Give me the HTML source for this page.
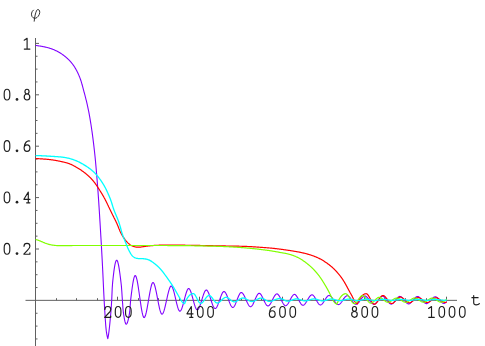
<!DOCTYPE html>
<html><head><meta charset="utf-8"><style>
html,body{margin:0;padding:0;background:#fff;}
svg{display:block}
</style></head><body>
<svg width="485" height="346" viewBox="0 0 485 346">
<rect width="485" height="346" fill="#fff"/>
<g fill="none" stroke="#606060" stroke-width="1">
<path d="M25.5,300.35 H457 M35.5,38 V346"/>
<path d="M56.50,300.35 v-2.15 M76.50,300.35 v-2.15 M97.50,300.35 v-2.15 M117.50,300.35 v-3.65 M138.50,300.35 v-2.15 M158.50,300.35 v-2.15 M179.50,300.35 v-2.15 M199.50,300.35 v-3.65 M220.50,300.35 v-2.15 M241.50,300.35 v-2.15 M261.50,300.35 v-2.15 M282.50,300.35 v-3.65 M302.50,300.35 v-2.15 M323.50,300.35 v-2.15 M343.50,300.35 v-2.15 M364.50,300.35 v-3.65 M384.50,300.35 v-2.15 M405.50,300.35 v-2.15 M426.50,300.35 v-2.15 M446.50,300.35 v-3.65 M35.5,338.95 h2.0 M35.5,326.10 h2.0 M35.5,313.25 h2.0 M35.5,287.55 h2.0 M35.5,274.70 h2.0 M35.5,261.85 h2.0 M35.5,249.00 h3.5 M35.5,236.15 h2.0 M35.5,223.30 h2.0 M35.5,210.45 h2.0 M35.5,197.60 h3.5 M35.5,184.75 h2.0 M35.5,171.90 h2.0 M35.5,159.05 h2.0 M35.5,146.20 h3.5 M35.5,133.35 h2.0 M35.5,120.50 h2.0 M35.5,107.65 h2.0 M35.5,94.80 h3.5 M35.5,81.95 h2.0 M35.5,69.10 h2.0 M35.5,56.25 h2.0 M35.5,43.40 h3.5"/>
</g>
<g fill="none" stroke-linejoin="round" stroke-linecap="butt" stroke-width="1.2">
<path stroke="#8000ff" stroke-width="1.1" d="M35.60,45.40 L36.09,45.47 L36.58,45.54 L37.08,45.62 L37.57,45.69 L38.06,45.76 L38.56,45.84 L39.05,45.92 L39.55,46.00 L40.04,46.08 L40.53,46.16 L41.03,46.24 L41.52,46.33 L42.01,46.41 L42.51,46.51 L43.00,46.60 L43.49,46.69 L43.98,46.79 L44.47,46.89 L44.97,47.00 L45.45,47.11 L45.94,47.22 L46.43,47.34 L46.92,47.45 L47.40,47.58 L47.89,47.71 L48.37,47.84 L48.85,47.97 L49.33,48.11 L49.81,48.26 L50.29,48.41 L50.76,48.57 L51.23,48.73 L51.70,48.89 L52.17,49.06 L52.64,49.24 L53.11,49.43 L53.57,49.61 L54.03,49.81 L54.49,50.01 L54.95,50.21 L55.40,50.42 L55.86,50.64 L56.31,50.86 L56.75,51.08 L57.20,51.31 L57.64,51.54 L58.08,51.78 L58.52,52.03 L58.95,52.27 L59.39,52.53 L59.82,52.78 L60.24,53.04 L60.67,53.31 L61.09,53.58 L61.51,53.85 L61.92,54.13 L62.34,54.42 L62.75,54.70 L63.15,54.99 L63.56,55.29 L63.96,55.59 L64.36,55.90 L64.75,56.20 L65.14,56.52 L65.53,56.83 L65.91,57.16 L66.29,57.48 L66.67,57.81 L67.05,58.14 L67.42,58.48 L67.78,58.82 L68.15,59.17 L68.51,59.52 L68.86,59.87 L69.21,60.23 L69.56,60.59 L69.90,60.96 L70.24,61.33 L70.58,61.70 L70.91,62.08 L71.23,62.46 L71.55,62.85 L71.87,63.24 L72.18,63.63 L72.49,64.02 L72.79,64.42 L73.09,64.83 L73.38,65.23 L73.67,65.64 L73.95,66.05 L74.23,66.47 L74.50,66.89 L74.77,67.31 L75.03,67.74 L75.29,68.17 L75.54,68.60 L75.79,69.03 L76.04,69.47 L76.28,69.91 L76.52,70.35 L76.75,70.79 L76.98,71.24 L77.21,71.68 L77.43,72.13 L77.65,72.58 L77.86,73.03 L78.08,73.49 L78.29,73.94 L78.49,74.40 L78.70,74.86 L78.90,75.31 L79.09,75.78 L79.29,76.24 L79.48,76.70 L79.66,77.16 L79.84,77.63 L80.02,78.10 L80.19,78.57 L80.36,79.04 L80.53,79.51 L80.69,79.98 L80.85,80.45 L81.01,80.93 L81.16,81.41 L81.30,81.88 L81.45,82.36 L81.59,82.84 L81.73,83.32 L81.87,83.80 L82.00,84.28 L82.13,84.77 L82.27,85.25 L82.40,85.73 L82.53,86.22 L82.65,86.70 L82.78,87.18 L82.91,87.67 L83.04,88.15 L83.17,88.63 L83.30,89.12 L83.43,89.60 L83.56,90.08 L83.69,90.57 L83.82,91.05 L83.95,91.53 L84.07,92.02 L84.20,92.50 L84.33,92.98 L84.46,93.46 L84.59,93.95 L84.72,94.43 L84.85,94.91 L84.98,95.40 L85.10,95.88 L85.23,96.37 L85.35,96.85 L85.48,97.33 L85.60,97.82 L85.73,98.30 L85.85,98.79 L85.97,99.27 L86.09,99.76 L86.21,100.24 L86.33,100.73 L86.45,101.21 L86.57,101.70 L86.68,102.18 L86.80,102.67 L86.91,103.16 L87.02,103.64 L87.14,104.13 L87.25,104.62 L87.36,105.11 L87.46,105.60 L87.57,106.08 L87.68,106.57 L87.78,107.06 L87.89,107.55 L87.99,108.04 L88.09,108.53 L88.19,109.02 L88.30,109.51 L88.40,110.00 L88.49,110.49 L88.59,110.98 L88.69,111.47 L88.78,111.96 L88.88,112.45 L88.97,112.94 L89.07,113.44 L89.16,113.93 L89.25,114.42 L89.34,114.91 L89.43,115.40 L89.52,115.89 L89.61,116.39 L89.70,116.88 L89.78,117.37 L89.87,117.86 L89.96,118.36 L90.04,118.85 L90.13,119.34 L90.21,119.84 L90.29,120.33 L90.37,120.82 L90.45,121.32 L90.53,121.81 L90.61,122.30 L90.69,122.80 L90.77,123.29 L90.85,123.78 L90.93,124.28 L91.01,124.77 L91.08,125.27 L91.16,125.76 L91.23,126.25 L91.31,126.75 L91.38,127.24 L91.46,127.74 L91.53,128.23 L91.60,128.73 L91.67,129.22 L91.75,129.72 L91.82,130.21 L91.89,130.71 L91.96,131.20 L92.03,131.70 L92.10,132.19 L92.17,132.69 L92.23,133.18 L92.30,133.68 L92.37,134.17 L92.44,134.67 L92.50,135.16 L92.57,135.66 L92.64,136.16 L92.70,136.65 L92.77,137.15 L92.83,137.64 L92.90,138.14 L92.96,138.63 L93.03,139.13 L93.09,139.63 L93.15,140.12 L93.21,140.62 L93.28,141.11 L93.34,141.61 L93.40,142.11 L93.46,142.60 L93.52,143.10 L93.58,143.60 L93.64,144.09 L93.70,144.59 L93.76,145.08 L93.82,145.58 L93.88,146.08 L93.94,146.57 L93.99,147.07 L94.05,147.57 L94.11,148.06 L94.17,148.56 L94.22,149.06 L94.28,149.56 L94.33,150.05 L94.39,150.55 L94.44,151.05 L94.50,151.54 L94.55,152.04 L94.61,152.54 L94.66,153.03 L94.71,153.53 L94.77,154.03 L94.82,154.53 L94.87,155.02 L94.92,155.52 L94.98,156.02 L95.03,156.52 L95.08,157.01 L95.13,157.51 L95.18,158.01 L95.23,158.51 L95.28,159.00 L95.33,159.50 L95.37,160.00 L95.42,160.50 L95.47,160.99 L95.52,161.49 L95.56,161.99 L95.61,162.49 L95.66,162.98 L95.70,163.48 L95.75,163.98 L95.79,164.48 L95.84,164.98 L95.88,165.47 L95.93,165.97 L95.97,166.47 L96.02,166.97 L96.06,167.47 L96.10,167.96 L96.15,168.46 L96.19,168.96 L96.23,169.46 L96.28,169.96 L96.32,170.46 L96.36,170.95 L96.40,171.45 L96.45,171.95 L96.49,172.45 L96.53,172.95 L96.57,173.44 L96.61,173.94 L96.65,174.44 L96.69,174.94 L96.74,175.44 L96.78,175.94 L96.82,176.43 L96.86,176.93 L96.90,177.43 L96.94,177.93 L96.98,178.43 L97.02,178.93 L97.06,179.42 L97.10,179.92 L97.14,180.42 L97.18,180.92 L97.22,181.42 L97.26,181.92 L97.30,182.41 L97.34,182.91 L97.38,183.41 L97.42,183.91 L97.46,184.41 L97.50,184.91 L97.54,185.41 L97.58,185.90 L97.62,186.40 L97.66,186.90 L97.69,187.40 L97.73,187.90 L97.77,188.40 L97.81,188.90 L97.85,189.39 L97.88,189.89 L97.92,190.39 L97.96,190.89 L97.99,191.39 L98.03,191.89 L98.07,192.39 L98.10,192.88 L98.14,193.38 L98.17,193.88 L98.21,194.38 L98.24,194.88 L98.28,195.38 L98.31,195.88 L98.35,196.38 L98.38,196.87 L98.42,197.37 L98.45,197.87 L98.49,198.37 L98.52,198.87 L98.55,199.37 L98.59,199.87 L98.62,200.37 L98.66,200.87 L98.69,201.36 L98.72,201.86 L98.75,202.36 L98.79,202.86 L98.82,203.36 L98.85,203.86 L98.88,204.36 L98.92,204.86 L98.95,205.36 L98.98,205.85 L99.01,206.35 L99.05,206.85 L99.08,207.35 L99.11,207.85 L99.14,208.35 L99.17,208.85 L99.20,209.35 L99.24,209.85 L99.27,210.35 L99.30,210.84 L99.33,211.34 L99.36,211.84 L99.39,212.34 L99.42,212.84 L99.45,213.34 L99.48,213.84 L99.52,214.34 L99.55,214.84 L99.58,215.34 L99.61,215.84 L99.64,216.33 L99.67,216.83 L99.70,217.33 L99.73,217.83 L99.76,218.33 L99.79,218.83 L99.82,219.33 L99.85,219.83 L99.88,220.33 L99.91,220.83 L99.95,221.32 L99.98,221.82 L100.01,222.32 L100.04,222.82 L100.07,223.32 L100.10,223.82 L100.13,224.32 L100.16,224.82 L100.19,225.32 L100.22,225.82 L100.25,226.32 L100.28,226.81 L100.31,227.31 L100.34,227.81 L100.37,228.31 L100.40,228.81 L100.43,229.31 L100.46,229.81 L100.49,230.31 L100.52,230.81 L100.55,231.31 L100.58,231.81 L100.61,232.31 L100.64,232.80 L100.67,233.30 L100.70,233.80 L100.72,234.30 L100.75,234.80 L100.78,235.30 L100.81,235.80 L100.84,236.30 L100.87,236.80 L100.90,237.30 L100.93,237.80 L100.96,238.29 L100.99,238.79 L101.02,239.29 L101.05,239.79 L101.08,240.29 L101.11,240.79 L101.13,241.29 L101.16,241.79 L101.19,242.29 L101.22,242.79 L101.25,243.29 L101.28,243.79 L101.31,244.28 L101.34,244.78 L101.36,245.28 L101.39,245.78 L101.42,246.28 L101.45,246.78 L101.48,247.28 L101.51,247.78 L101.54,248.28 L101.56,248.78 L101.59,249.28 L101.62,249.78 L101.65,250.27 L101.68,250.77 L101.70,251.27 L101.73,251.77 L101.76,252.27 L101.79,252.77 L101.81,253.27 L101.84,253.77 L101.87,254.27 L101.90,254.77 L101.92,255.27 L101.95,255.77 L101.98,256.27 L102.01,256.76 L102.03,257.26 L102.06,257.76 L102.09,258.26 L102.11,258.76 L102.14,259.26 L102.17,259.76 L102.19,260.26 L102.22,260.76 L102.25,261.26 L102.27,261.76 L102.30,262.26 L102.32,262.76 L102.35,263.26 L102.38,263.75 L102.40,264.25 L102.43,264.75 L102.45,265.25 L102.48,265.75 L102.50,266.25 L102.53,266.75 L102.55,267.25 L102.58,267.75 L102.60,268.25 L102.63,268.75 L102.65,269.25 L102.68,269.75 L102.70,270.25 L102.73,270.75 L102.75,271.25 L102.78,271.75 L102.80,272.24 L102.82,272.74 L102.85,273.24 L102.87,273.74 L102.90,274.24 L102.92,274.74 L102.94,275.24 L102.97,275.74 L102.99,276.24 L103.01,276.74 L103.04,277.24 L103.06,277.74 L103.08,278.24 L103.11,278.74 L103.13,279.24 L103.15,279.74 L103.17,280.24 L103.20,280.74 L103.22,281.24 L103.24,281.74 L103.27,282.24 L103.29,282.73 L103.31,283.23 L103.34,283.73 L103.36,284.23 L103.38,284.73 L103.41,285.23 L103.43,285.73 L103.45,286.23 L103.48,286.73 L103.50,287.23 L103.52,287.73 L103.55,288.23 L103.57,288.73 L103.59,289.23 L103.62,289.73 L103.64,290.23 L103.66,290.73 L103.69,291.23 L103.71,291.73 L103.74,292.22 L103.76,292.72 L103.79,293.22 L103.81,293.72 L103.84,294.22 L103.86,294.72 L103.89,295.22 L103.91,295.72 L103.94,296.22 L103.96,296.72 L103.99,297.22 L104.01,297.72 L104.04,298.22 L104.07,298.72 L104.09,299.21 L104.12,299.71 L104.15,300.21 L104.17,300.71 L104.20,301.21 L104.23,301.71 L104.25,302.21 L104.28,302.71 L104.31,303.21 L104.34,303.71 L104.37,304.20 L104.40,304.70 L104.43,305.20 L104.45,305.70 L104.48,306.20 L104.51,306.70 L104.54,307.20 L104.57,307.70 L104.60,308.20 L104.63,308.69 L104.66,309.19 L104.69,309.69 L104.72,310.19 L104.76,310.69 L104.79,311.19 L104.82,311.69 L104.85,312.19 L104.88,312.69 L104.91,313.18 L104.95,313.68 L104.98,314.18 L105.01,314.68 L105.04,315.18 L105.07,315.68 L105.11,316.18 L105.14,316.68 L105.17,317.18 L105.21,317.68 L105.24,318.18 L105.27,318.67 L105.31,319.17 L105.34,319.67 L105.37,320.17 L105.41,320.67 L105.44,321.17 L105.48,321.67 L105.51,322.17 L105.55,322.67 L105.58,323.17 L105.62,323.67 L105.65,324.17 L105.69,324.67 L105.73,325.17 L105.77,325.67 L105.81,326.16 L105.85,326.66 L105.89,327.16 L105.94,327.66 L105.99,328.16 L106.04,328.66 L106.09,329.15 L106.15,329.65 L106.20,330.15 L106.27,330.64 L106.33,331.14 L106.40,331.63 L106.47,332.13 L106.54,332.62 L106.62,333.11 L106.70,333.61 L106.79,334.10 L106.88,334.59 L106.97,335.08 L107.07,335.57 L107.17,336.06 L107.28,336.55 L107.40,337.03 L107.52,337.52 L107.64,338.01 L107.77,338.49 L107.80,338.60 L108.20,336.72 L108.60,334.23 L109.00,331.21 L109.40,327.74 L109.80,323.89 L110.20,319.75 L110.60,315.38 L111.00,310.82 L111.40,305.33 L111.80,298.39 L112.20,288.42 L112.60,282.91 L113.00,278.96 L113.40,275.34 L113.80,272.06 L114.20,269.13 L114.60,266.59 L115.00,264.44 L115.40,262.71 L115.80,261.42 L116.20,260.58 L116.60,260.22 L117.00,260.35 L117.40,260.97 L117.80,262.06 L118.20,263.57 L118.60,265.45 L119.00,267.68 L119.40,270.20 L119.80,272.98 L120.20,275.97 L120.60,279.14 L121.00,282.45 L121.40,285.96 L121.80,291.27 L122.20,297.52 L122.60,303.24 L123.00,308.96 L123.40,312.69 L123.80,315.35 L124.20,317.78 L124.60,319.91 L125.00,321.69 L125.40,323.04 L125.80,323.90 L126.20,324.20 L126.60,324.01 L127.00,323.45 L127.40,322.55 L127.80,321.34 L128.20,319.83 L128.60,318.06 L129.00,316.04 L129.40,313.81 L129.80,311.20 L130.20,305.66 L130.60,300.40 L131.00,297.07 L131.40,293.82 L131.80,290.70 L132.20,287.75 L132.60,285.01 L133.00,282.53 L133.40,280.36 L133.80,278.53 L134.20,277.09 L134.60,276.09 L135.00,275.57 L135.40,275.56 L135.80,276.05 L136.20,276.98 L136.60,278.30 L137.00,279.97 L137.40,281.95 L137.80,284.18 L138.20,286.63 L138.60,289.24 L139.00,291.97 L139.40,294.78 L139.80,297.61 L140.20,300.43 L140.60,303.19 L141.00,305.84 L141.40,308.33 L141.80,310.62 L142.20,312.66 L142.60,314.42 L143.00,315.83 L143.40,316.86 L143.80,317.46 L144.20,317.59 L144.60,317.28 L145.00,316.60 L145.40,315.57 L145.80,314.25 L146.20,312.66 L146.60,310.85 L147.00,308.85 L147.40,306.70 L147.80,304.44 L148.20,302.12 L148.60,299.75 L149.00,297.40 L149.40,295.08 L149.80,292.85 L150.20,290.74 L150.60,288.78 L151.00,287.02 L151.40,285.50 L151.80,284.24 L152.20,283.30 L152.60,282.71 L153.00,282.50 L153.40,282.68 L153.80,283.21 L154.20,284.04 L154.60,285.15 L155.00,286.50 L155.40,288.06 L155.80,289.80 L156.20,291.67 L156.60,293.66 L157.00,295.72 L157.40,297.82 L157.80,299.93 L158.20,302.02 L158.60,304.05 L159.00,305.98 L159.40,307.79 L159.80,309.44 L160.20,310.90 L160.60,312.14 L161.00,313.11 L161.40,313.80 L161.80,314.15 L162.20,314.16 L162.60,313.86 L163.00,313.27 L163.40,312.44 L163.80,311.38 L164.20,310.13 L164.60,308.72 L165.00,307.16 L165.40,305.49 L165.80,303.74 L166.20,301.93 L166.60,300.10 L167.00,298.27 L167.40,296.46 L167.80,294.71 L168.20,293.04 L168.60,291.48 L169.00,290.07 L169.40,288.82 L169.80,287.76 L170.20,286.93 L170.60,286.34 L171.00,286.04 L171.40,286.04 L171.80,286.34 L172.20,286.92 L172.60,287.75 L173.00,288.79 L173.40,290.02 L173.80,291.41 L174.20,292.92 L174.60,294.54 L175.00,296.22 L175.40,297.95 L175.80,299.69 L176.20,301.40 L176.60,303.07 L177.00,304.67 L177.40,306.15 L177.80,307.50 L178.20,308.69 L178.60,309.68 L179.00,310.45 L179.40,310.96 L179.80,311.19 L180.20,311.12 L180.60,310.79 L181.00,310.22 L181.40,309.45 L181.80,308.48 L182.20,307.36 L182.60,306.10 L183.00,304.73 L183.40,303.28 L183.80,301.78 L184.20,300.24 L184.60,298.69 L185.00,297.16 L185.40,295.68 L185.80,294.27 L186.20,292.96 L186.60,291.76 L187.00,290.71 L187.40,289.84 L187.80,289.16 L188.20,288.71 L188.60,288.51 L189.00,288.58 L189.40,288.90 L189.80,289.46 L190.20,290.23 L190.60,291.17 L191.00,292.27 L191.40,293.50 L191.80,294.84 L192.20,296.25 L192.60,297.71 L193.00,299.20 L193.40,300.69 L193.80,302.15 L194.20,303.56 L194.60,304.90 L195.00,306.13 L195.40,307.23 L195.80,308.17 L196.20,308.94 L196.60,309.50 L197.00,309.82 L197.40,309.89 L197.80,309.72 L198.20,309.34 L198.60,308.77 L199.00,308.04 L199.40,307.16 L199.80,306.15 L200.20,305.03 L200.60,303.84 L201.00,302.58 L201.40,301.27 L201.80,299.95 L202.20,298.63 L202.60,297.32 L203.00,296.06 L203.40,294.87 L203.80,293.75 L204.20,292.74 L204.60,291.86 L205.00,291.13 L205.40,290.56 L205.80,290.18 L206.20,290.01 L206.60,290.06 L207.00,290.33 L207.40,290.78 L207.80,291.40 L208.20,292.17 L208.60,293.07 L209.00,294.07 L209.40,295.17 L209.80,296.33 L210.20,297.54 L210.60,298.78 L211.00,300.03 L211.40,301.26 L211.80,302.46 L212.20,303.61 L212.60,304.69 L213.00,305.67 L213.40,306.54 L213.80,307.27 L214.20,307.85 L214.60,308.26 L215.00,308.47 L215.40,308.47 L215.80,308.27 L216.20,307.89 L216.60,307.35 L217.00,306.66 L217.40,305.84 L217.80,304.92 L218.20,303.92 L218.60,302.85 L219.00,301.73 L219.40,300.58 L219.80,299.42 L220.20,298.27 L220.60,297.15 L221.00,296.08 L221.40,295.08 L221.80,294.16 L222.20,293.34 L222.60,292.65 L223.00,292.11 L223.40,291.73 L223.80,291.53 L224.20,291.52 L224.60,291.71 L225.00,292.07 L225.40,292.58 L225.80,293.22 L226.20,293.98 L226.60,294.84 L227.00,295.78 L227.40,296.79 L227.80,297.83 L228.20,298.91 L228.60,299.99 L229.00,301.07 L229.40,302.11 L229.80,303.12 L230.20,304.06 L230.60,304.92 L231.00,305.68 L231.40,306.32 L231.80,306.83 L232.20,307.19 L232.60,307.38 L233.00,307.38 L233.40,307.19 L233.80,306.83 L234.20,306.32 L234.60,305.68 L235.00,304.92 L235.40,304.07 L235.80,303.14 L236.20,302.16 L236.60,301.13 L237.00,300.08 L237.40,299.03 L237.80,298.00 L238.20,297.00 L238.60,296.06 L239.00,295.18 L239.40,294.40 L239.80,293.73 L240.20,293.18 L240.60,292.79 L241.00,292.55 L241.40,292.50 L241.80,292.62 L242.20,292.87 L242.60,293.25 L243.00,293.75 L243.40,294.35 L243.80,295.03 L244.20,295.78 L244.60,296.59 L245.00,297.45 L245.40,298.35 L245.80,299.26 L246.20,300.17 L246.60,301.08 L247.00,301.96 L247.40,302.81 L247.80,303.61 L248.20,304.35 L248.60,305.01 L249.00,305.58 L249.40,306.05 L249.80,306.40 L250.20,306.62 L250.60,306.70 L251.00,306.62 L251.40,306.37 L251.80,305.99 L252.20,305.48 L252.60,304.86 L253.00,304.15 L253.40,303.36 L253.80,302.51 L254.20,301.62 L254.60,300.70 L255.00,299.77 L255.40,298.84 L255.80,297.93 L256.20,297.05 L256.60,296.23 L257.00,295.48 L257.40,294.82 L257.80,294.25 L258.20,293.80 L258.60,293.49 L259.00,293.32 L259.40,293.32 L259.80,293.47 L260.20,293.75 L260.60,294.16 L261.00,294.68 L261.40,295.28 L261.80,295.97 L262.20,296.72 L262.60,297.52 L263.00,298.36 L263.40,299.22 L263.80,300.08 L264.20,300.94 L264.60,301.78 L265.00,302.58 L265.40,303.33 L265.80,304.02 L266.20,304.62 L266.60,305.14 L267.00,305.55 L267.40,305.83 L267.80,305.98 L268.20,305.98 L268.60,305.84 L269.00,305.58 L269.40,305.20 L269.80,304.72 L270.20,304.15 L270.60,303.51 L271.00,302.80 L271.40,302.05 L271.80,301.27 L272.20,300.46 L272.60,299.64 L273.00,298.83 L273.40,298.04 L273.80,297.28 L274.20,296.57 L274.60,295.91 L275.00,295.32 L275.40,294.82 L275.80,294.41 L276.20,294.11 L276.60,293.94 L277.00,293.90 L277.40,294.01 L277.80,294.25 L278.20,294.61 L278.60,295.08 L279.00,295.63 L279.40,296.26 L279.80,296.96 L280.20,297.71 L280.60,298.49 L281.00,299.29 L281.40,300.11 L281.80,300.91 L282.20,301.70 L282.60,302.46 L283.00,303.17 L283.40,303.82 L283.80,304.39 L284.20,304.88 L284.60,305.27 L285.00,305.54 L285.40,305.68 L285.80,305.68 L286.20,305.55 L286.60,305.30 L287.00,304.95 L287.40,304.50 L287.80,303.97 L288.20,303.37 L288.60,302.71 L289.00,302.01 L289.40,301.28 L289.80,300.53 L290.20,299.76 L290.60,299.01 L291.00,298.27 L291.40,297.56 L291.80,296.89 L292.20,296.27 L292.60,295.73 L293.00,295.25 L293.40,294.88 L293.80,294.60 L294.20,294.44 L294.60,294.40 L295.00,294.51 L295.40,294.75 L295.80,295.10 L296.20,295.56 L296.60,296.10 L297.00,296.72 L297.40,297.40 L297.80,298.13 L298.20,298.88 L298.60,299.66 L299.00,300.43 L299.40,301.20 L299.80,301.94 L300.20,302.65 L300.60,303.30 L301.00,303.88 L301.40,304.38 L301.80,304.79 L302.20,305.09 L302.60,305.26 L303.00,305.30 L303.40,305.21 L303.80,305.01 L304.20,304.72 L304.60,304.34 L305.00,303.88 L305.40,303.36 L305.80,302.78 L306.20,302.16 L306.60,301.50 L307.00,300.83 L307.40,300.14 L307.80,299.45 L308.20,298.76 L308.60,298.10 L309.00,297.47 L309.40,296.88 L309.80,296.34 L310.20,295.87 L310.60,295.47 L311.00,295.15 L311.40,294.93 L311.80,294.81 L312.20,294.82 L312.60,294.95 L313.00,295.20 L313.40,295.56 L313.80,296.00 L314.20,296.53 L314.60,297.13 L315.00,297.77 L315.40,298.46 L315.80,299.17 L316.20,299.90 L316.60,300.63 L317.00,301.34 L317.40,302.03 L317.80,302.67 L318.20,303.27 L318.60,303.80 L319.00,304.24 L319.40,304.60 L319.80,304.85 L320.20,304.98 L320.60,304.98 L321.00,304.87 L321.40,304.64 L321.80,304.33 L322.20,303.93 L322.60,303.45 L323.00,302.92 L323.40,302.34 L323.80,301.72 L324.20,301.07 L324.60,300.42 L325.00,299.75 L325.40,299.10 L325.80,298.47 L326.20,297.87 L326.60,297.31 L327.00,296.80 L327.40,296.36 L327.80,296.00 L328.20,295.73 L328.60,295.56 L329.00,295.50 L329.40,295.55 L329.80,295.69 L330.20,295.91 L330.60,296.20 L331.00,296.56 L331.40,296.98 L331.80,297.44 L332.20,297.95 L332.60,298.48 L333.00,299.04 L333.40,299.61 L333.80,300.20 L334.20,300.77 L334.60,301.34 L335.00,301.89 L335.40,302.41 L335.80,302.90 L336.20,303.34 L336.60,303.73 L337.00,304.05 L337.40,304.31 L337.80,304.49 L338.20,304.59 L338.60,304.59 L339.00,304.48 L339.40,304.29 L339.80,304.01 L340.20,303.66 L340.60,303.24 L341.00,302.77 L341.40,302.25 L341.80,301.70 L342.20,301.12 L342.60,300.52 L343.00,299.93 L343.40,299.33 L343.80,298.75 L344.20,298.19 L344.60,297.66 L345.00,297.18 L345.40,296.74 L345.80,296.37 L346.20,296.07 L346.60,295.86 L347.00,295.73 L347.40,295.70 L347.80,295.78 L348.20,295.96 L348.60,296.22 L349.00,296.56 L349.40,296.96 L349.80,297.42 L350.20,297.93 L350.60,298.47 L351.00,299.04 L351.40,299.63 L351.80,300.22 L352.20,300.81 L352.60,301.39 L353.00,301.94 L353.40,302.45 L353.80,302.93 L354.20,303.35 L354.60,303.70 L355.00,303.99 L355.40,304.18 L355.80,304.29 L356.20,304.29 L356.60,304.19 L357.00,304.00 L357.40,303.74 L357.80,303.40 L358.20,303.00 L358.60,302.55 L359.00,302.06 L359.40,301.54 L359.80,300.99 L360.20,300.43 L360.60,299.87 L361.00,299.31 L361.40,298.76 L361.80,298.24 L362.20,297.75 L362.60,297.30 L363.00,296.90 L363.40,296.56 L363.80,296.30 L364.20,296.11 L364.60,296.01 L365.00,296.01 L365.40,296.10 L365.80,296.28 L366.20,296.53 L366.60,296.85 L367.00,297.23 L367.40,297.66 L367.80,298.13 L368.20,298.63 L368.60,299.15 L369.00,299.69 L369.40,300.24 L369.80,300.78 L370.20,301.31 L370.60,301.83 L371.00,302.31 L371.40,302.76 L371.80,303.17 L372.20,303.51 L372.60,303.80 L373.00,304.02 L373.40,304.15 L373.80,304.20 L374.20,304.15 L374.60,304.01 L375.00,303.79 L375.40,303.49 L375.80,303.13 L376.20,302.71 L376.60,302.25 L377.00,301.75 L377.40,301.22 L377.80,300.68 L378.20,300.13 L378.60,299.58 L379.00,299.04 L379.40,298.52 L379.80,298.03 L380.20,297.58 L380.60,297.18 L381.00,296.83 L381.40,296.55 L381.80,296.35 L382.20,296.23 L382.60,296.20 L383.00,296.28 L383.40,296.44 L383.80,296.68 L384.20,296.99 L384.60,297.36 L385.00,297.78 L385.40,298.25 L385.80,298.75 L386.20,299.27 L386.60,299.81 L387.00,300.35 L387.40,300.90 L387.80,301.42 L388.20,301.93 L388.60,302.41 L389.00,302.84 L389.40,303.23 L389.80,303.55 L390.20,303.81 L390.60,303.99 L391.00,304.09 L391.40,304.09 L391.80,304.00 L392.20,303.82 L392.60,303.57 L393.00,303.25 L393.40,302.87 L393.80,302.45 L394.20,301.98 L394.60,301.49 L395.00,300.98 L395.40,300.45 L395.80,299.92 L396.20,299.39 L396.60,298.88 L397.00,298.40 L397.40,297.94 L397.80,297.53 L398.20,297.17 L398.60,296.86 L399.00,296.63 L399.40,296.47 L399.80,296.40 L400.20,296.43 L400.60,296.54 L401.00,296.73 L401.40,296.99 L401.80,297.32 L402.20,297.70 L402.60,298.12 L403.00,298.58 L403.40,299.06 L403.80,299.57 L404.20,300.09 L404.60,300.60 L405.00,301.11 L405.40,301.60 L405.80,302.07 L406.20,302.50 L406.60,302.89 L407.00,303.23 L407.40,303.51 L407.80,303.72 L408.20,303.85 L408.60,303.90 L409.00,303.86 L409.40,303.73 L409.80,303.53 L410.20,303.27 L410.60,302.95 L411.00,302.58 L411.40,302.16 L411.80,301.72 L412.20,301.25 L412.60,300.76 L413.00,300.26 L413.40,299.76 L413.80,299.27 L414.20,298.80 L414.60,298.35 L415.00,297.92 L415.40,297.54 L415.80,297.21 L416.20,296.93 L416.60,296.71 L417.00,296.57 L417.40,296.50 L417.80,296.52 L418.20,296.62 L418.60,296.80 L419.00,297.04 L419.40,297.33 L419.80,297.68 L420.20,298.06 L420.60,298.48 L421.00,298.93 L421.40,299.40 L421.80,299.87 L422.20,300.35 L422.60,300.82 L423.00,301.28 L423.40,301.72 L423.80,302.14 L424.20,302.51 L424.60,302.85 L425.00,303.13 L425.40,303.35 L425.80,303.51 L426.20,303.59 L426.60,303.59 L427.00,303.51 L427.40,303.36 L427.80,303.15 L428.20,302.88 L428.60,302.56 L429.00,302.20 L429.40,301.80 L429.80,301.38 L430.20,300.94 L430.60,300.49 L431.00,300.03 L431.40,299.57 L431.80,299.13 L432.20,298.70 L432.60,298.30 L433.00,297.93 L433.40,297.60 L433.80,297.31 L434.20,297.09 L434.60,296.92 L435.00,296.82 L435.40,296.80 L435.80,296.86 L436.20,297.00 L436.60,297.20 L437.00,297.46 L437.40,297.77 L437.80,298.12 L438.20,298.51 L438.60,298.93 L439.00,299.37 L439.40,299.82 L439.80,300.27 L440.20,300.72 L440.60,301.16 L441.00,301.59 L441.40,301.98 L441.80,302.35 L442.20,302.67 L442.60,302.94 L443.00,303.16 L443.40,303.31 L443.80,303.39 L444.20,303.39 L444.60,303.28 L445.00,303.08 L445.40,302.81 L445.80,302.48 L446.20,302.11 L446.60,301.71 L446.80,301.50"/>
<path stroke="#ff0000" d="M35.60,158.50 L36.10,158.54 L36.59,158.57 L37.09,158.60 L37.59,158.64 L38.09,158.67 L38.59,158.70 L39.09,158.74 L39.59,158.77 L40.08,158.80 L40.58,158.83 L41.08,158.86 L41.58,158.90 L42.08,158.93 L42.58,158.96 L43.08,159.00 L43.58,159.03 L44.08,159.07 L44.58,159.11 L45.08,159.14 L45.58,159.18 L46.08,159.22 L46.58,159.27 L47.07,159.31 L47.57,159.36 L48.07,159.40 L48.57,159.45 L49.07,159.50 L49.56,159.56 L50.06,159.61 L50.56,159.67 L51.05,159.73 L51.55,159.79 L52.05,159.86 L52.54,159.93 L53.04,160.00 L53.53,160.08 L54.02,160.15 L54.52,160.24 L55.01,160.32 L55.50,160.41 L55.99,160.50 L56.48,160.59 L56.97,160.69 L57.46,160.78 L57.95,160.88 L58.44,160.98 L58.93,161.08 L59.42,161.18 L59.91,161.28 L60.41,161.38 L60.90,161.48 L61.39,161.59 L61.88,161.69 L62.37,161.79 L62.86,161.90 L63.35,162.01 L63.84,162.12 L64.32,162.24 L64.81,162.35 L65.30,162.48 L65.78,162.60 L66.26,162.73 L66.74,162.87 L67.22,163.01 L67.70,163.16 L68.17,163.32 L68.64,163.48 L69.11,163.65 L69.58,163.83 L70.04,164.01 L70.50,164.20 L70.96,164.40 L71.42,164.60 L71.88,164.81 L72.33,165.02 L72.78,165.24 L73.23,165.46 L73.67,165.69 L74.12,165.93 L74.56,166.16 L75.00,166.40 L75.44,166.65 L75.87,166.90 L76.31,167.15 L76.74,167.40 L77.17,167.66 L77.60,167.92 L78.03,168.18 L78.46,168.45 L78.88,168.72 L79.30,168.98 L79.72,169.26 L80.14,169.53 L80.56,169.81 L80.97,170.09 L81.39,170.37 L81.80,170.65 L82.21,170.94 L82.62,171.23 L83.02,171.52 L83.42,171.82 L83.82,172.12 L84.22,172.42 L84.62,172.72 L85.01,173.03 L85.41,173.34 L85.80,173.65 L86.18,173.97 L86.57,174.29 L86.95,174.61 L87.33,174.94 L87.71,175.27 L88.08,175.60 L88.46,175.94 L88.82,176.28 L89.19,176.62 L89.55,176.97 L89.91,177.32 L90.27,177.67 L90.62,178.03 L90.97,178.39 L91.31,178.75 L91.65,179.12 L91.99,179.49 L92.32,179.86 L92.65,180.24 L92.98,180.62 L93.30,181.00 L93.61,181.39 L93.92,181.78 L94.23,182.18 L94.53,182.58 L94.83,182.98 L95.13,183.38 L95.42,183.79 L95.71,184.19 L95.99,184.60 L96.28,185.02 L96.56,185.43 L96.84,185.84 L97.12,186.26 L97.39,186.68 L97.67,187.10 L97.94,187.51 L98.22,187.93 L98.49,188.35 L98.76,188.77 L99.04,189.19 L99.31,189.61 L99.58,190.03 L99.85,190.45 L100.11,190.88 L100.38,191.30 L100.65,191.72 L100.91,192.15 L101.17,192.57 L101.44,193.00 L101.70,193.42 L101.95,193.85 L102.21,194.28 L102.47,194.71 L102.72,195.14 L102.97,195.58 L103.22,196.01 L103.47,196.44 L103.71,196.88 L103.95,197.32 L104.20,197.75 L104.44,198.19 L104.67,198.63 L104.91,199.08 L105.14,199.52 L105.37,199.96 L105.60,200.41 L105.83,200.85 L106.05,201.30 L106.28,201.75 L106.50,202.19 L106.72,202.64 L106.94,203.09 L107.15,203.54 L107.37,203.99 L107.58,204.45 L107.80,204.90 L108.01,205.35 L108.23,205.80 L108.44,206.25 L108.65,206.71 L108.87,207.16 L109.08,207.61 L109.30,208.06 L109.51,208.51 L109.73,208.96 L109.94,209.41 L110.16,209.86 L110.38,210.31 L110.60,210.76 L110.82,211.21 L111.04,211.66 L111.26,212.11 L111.48,212.56 L111.70,213.01 L111.92,213.45 L112.15,213.90 L112.37,214.35 L112.59,214.80 L112.82,215.24 L113.04,215.69 L113.27,216.14 L113.49,216.58 L113.71,217.03 L113.94,217.48 L114.16,217.93 L114.39,218.37 L114.61,218.82 L114.84,219.27 L115.06,219.71 L115.28,220.16 L115.50,220.61 L115.72,221.06 L115.94,221.51 L116.15,221.96 L116.36,222.42 L116.57,222.87 L116.78,223.32 L116.99,223.78 L117.19,224.24 L117.39,224.70 L117.58,225.16 L117.77,225.62 L117.96,226.08 L118.15,226.55 L118.33,227.01 L118.51,227.48 L118.70,227.95 L118.88,228.41 L119.06,228.88 L119.25,229.34 L119.44,229.80 L119.63,230.27 L119.83,230.73 L120.03,231.18 L120.23,231.64 L120.44,232.09 L120.66,232.54 L120.89,232.99 L121.12,233.43 L121.35,233.87 L121.60,234.31 L121.84,234.74 L122.10,235.17 L122.35,235.60 L122.62,236.03 L122.88,236.45 L123.15,236.88 L123.43,237.30 L123.71,237.71 L123.99,238.13 L124.27,238.54 L124.56,238.95 L124.86,239.36 L125.15,239.76 L125.46,240.16 L125.77,240.55 L126.08,240.94 L126.41,241.32 L126.74,241.69 L127.08,242.06 L127.42,242.42 L127.78,242.78 L128.14,243.12 L128.52,243.46 L128.90,243.78 L129.29,244.09 L129.69,244.40 L130.10,244.69 L130.52,244.96 L130.94,245.23 L131.38,245.47 L131.82,245.71 L132.28,245.93 L132.74,246.13 L133.20,246.31 L133.68,246.48 L134.16,246.63 L134.64,246.77 L135.13,246.88 L135.62,246.98 L136.11,247.06 L136.61,247.12 L137.11,247.17 L137.61,247.20 L138.11,247.21 L138.61,247.20 L139.11,247.18 L139.61,247.15 L140.11,247.10 L140.61,247.05 L141.10,246.98 L141.60,246.91 L142.09,246.84 L142.59,246.76 L143.08,246.69 L143.58,246.61 L144.07,246.54 L144.57,246.47 L145.06,246.40 L145.56,246.34 L146.05,246.27 L146.55,246.21 L147.05,246.14 L147.54,246.08 L148.04,246.02 L148.54,245.96 L149.03,245.91 L149.53,245.85 L150.03,245.80 L150.52,245.75 L151.02,245.70 L151.52,245.65 L152.02,245.61 L152.52,245.57 L153.01,245.53 L153.51,245.49 L154.01,245.46 L154.51,245.42 L155.01,245.39 L155.51,245.37 L156.01,245.34 L156.51,245.32 L157.01,245.29 L157.51,245.27 L158.01,245.25 L158.51,245.24 L159.01,245.22 L159.51,245.21 L160.01,245.19 L160.51,245.18 L161.01,245.17 L161.51,245.16 L162.01,245.15 L162.51,245.14 L163.01,245.13 L163.51,245.13 L164.01,245.12 L164.51,245.12 L165.01,245.11 L165.51,245.11 L166.01,245.11 L166.51,245.10 L167.01,245.10 L167.51,245.10 L168.01,245.10 L168.51,245.10 L169.01,245.10 L169.51,245.10 L170.01,245.10 L170.51,245.10 L171.01,245.10 L171.51,245.10 L172.01,245.11 L172.51,245.11 L173.01,245.11 L173.51,245.11 L174.01,245.11 L174.51,245.12 L175.01,245.12 L175.51,245.12 L176.01,245.13 L176.51,245.13 L177.01,245.13 L177.51,245.14 L178.01,245.14 L178.51,245.15 L179.01,245.15 L179.51,245.16 L180.01,245.16 L180.51,245.17 L181.01,245.17 L181.51,245.18 L182.01,245.18 L182.51,245.19 L183.01,245.19 L183.51,245.20 L184.01,245.21 L184.51,245.21 L185.01,245.22 L185.51,245.23 L186.01,245.23 L186.51,245.24 L187.01,245.25 L187.51,245.25 L188.01,245.26 L188.51,245.27 L189.01,245.28 L189.51,245.29 L190.01,245.29 L190.51,245.30 L191.01,245.31 L191.51,245.32 L192.01,245.33 L192.51,245.33 L193.00,245.34 L193.50,245.35 L194.00,245.36 L194.50,245.37 L195.00,245.38 L195.50,245.39 L196.00,245.40 L196.50,245.40 L197.00,245.41 L197.50,245.42 L198.00,245.43 L198.50,245.44 L199.00,245.45 L199.50,245.46 L200.00,245.47 L200.50,245.48 L201.00,245.49 L201.50,245.50 L202.00,245.51 L202.50,245.52 L203.00,245.53 L203.50,245.54 L204.00,245.55 L204.50,245.56 L205.00,245.57 L205.50,245.58 L206.00,245.59 L206.50,245.59 L207.00,245.60 L207.50,245.61 L208.00,245.62 L208.50,245.63 L209.00,245.64 L209.50,245.65 L210.00,245.66 L210.50,245.67 L211.00,245.68 L211.50,245.69 L212.00,245.70 L212.50,245.71 L213.00,245.72 L213.50,245.73 L214.00,245.74 L214.50,245.75 L215.00,245.76 L215.50,245.77 L216.00,245.78 L216.50,245.79 L217.00,245.80 L217.50,245.81 L218.00,245.82 L218.50,245.83 L219.00,245.84 L219.50,245.85 L220.00,245.86 L220.50,245.87 L221.00,245.88 L221.50,245.89 L222.00,245.90 L222.50,245.91 L223.00,245.92 L223.50,245.93 L224.00,245.94 L224.50,245.95 L225.00,245.96 L225.50,245.97 L226.00,245.98 L226.50,245.99 L227.00,245.99 L227.50,246.00 L228.00,246.01 L228.50,246.02 L229.00,246.03 L229.50,246.04 L230.00,246.05 L230.50,246.06 L231.00,246.07 L231.50,246.08 L232.00,246.09 L232.50,246.09 L233.00,246.10 L233.50,246.11 L234.00,246.12 L234.50,246.13 L235.00,246.14 L235.50,246.15 L236.00,246.16 L236.50,246.17 L237.00,246.18 L237.50,246.19 L238.00,246.20 L238.50,246.21 L239.00,246.22 L239.50,246.23 L240.00,246.24 L240.50,246.25 L241.00,246.26 L241.50,246.27 L242.00,246.29 L242.50,246.30 L243.00,246.32 L243.50,246.33 L244.00,246.35 L244.50,246.36 L245.00,246.38 L245.50,246.40 L246.00,246.42 L246.49,246.44 L246.99,246.46 L247.49,246.48 L247.99,246.50 L248.49,246.52 L248.99,246.55 L249.49,246.57 L249.99,246.60 L250.49,246.63 L250.99,246.66 L251.49,246.68 L251.99,246.71 L252.49,246.75 L252.98,246.78 L253.48,246.81 L253.98,246.84 L254.48,246.88 L254.98,246.91 L255.48,246.95 L255.98,246.98 L256.48,247.02 L256.98,247.05 L257.47,247.09 L257.97,247.12 L258.47,247.16 L258.97,247.20 L259.47,247.23 L259.97,247.27 L260.47,247.30 L260.97,247.34 L261.46,247.38 L261.96,247.41 L262.46,247.45 L262.96,247.48 L263.46,247.52 L263.96,247.55 L264.46,247.59 L264.96,247.62 L265.45,247.66 L265.95,247.70 L266.45,247.74 L266.95,247.77 L267.45,247.81 L267.95,247.85 L268.45,247.89 L268.94,247.94 L269.44,247.98 L269.94,248.02 L270.44,248.07 L270.94,248.11 L271.43,248.16 L271.93,248.21 L272.43,248.26 L272.93,248.31 L273.42,248.36 L273.92,248.42 L274.42,248.47 L274.91,248.53 L275.41,248.58 L275.91,248.64 L276.40,248.70 L276.90,248.76 L277.40,248.82 L277.89,248.88 L278.39,248.94 L278.89,249.00 L279.38,249.06 L279.88,249.13 L280.37,249.19 L280.87,249.26 L281.37,249.32 L281.86,249.39 L282.36,249.45 L282.85,249.52 L283.35,249.59 L283.84,249.66 L284.34,249.73 L284.83,249.79 L285.33,249.86 L285.82,249.93 L286.32,250.01 L286.81,250.08 L287.31,250.15 L287.80,250.22 L288.30,250.29 L288.79,250.37 L289.29,250.44 L289.78,250.52 L290.28,250.59 L290.77,250.67 L291.26,250.75 L291.76,250.82 L292.25,250.90 L292.75,250.98 L293.24,251.06 L293.73,251.14 L294.23,251.22 L294.72,251.31 L295.21,251.39 L295.71,251.48 L296.20,251.56 L296.69,251.65 L297.18,251.74 L297.67,251.83 L298.17,251.92 L298.66,252.01 L299.15,252.11 L299.64,252.21 L300.13,252.30 L300.62,252.41 L301.11,252.51 L301.60,252.61 L302.09,252.72 L302.57,252.83 L303.06,252.94 L303.55,253.05 L304.03,253.17 L304.52,253.29 L305.01,253.41 L305.49,253.53 L305.98,253.65 L306.46,253.78 L306.94,253.91 L307.42,254.05 L307.91,254.18 L308.39,254.32 L308.87,254.46 L309.35,254.60 L309.82,254.75 L310.30,254.90 L310.78,255.05 L311.25,255.21 L311.73,255.37 L312.20,255.53 L312.67,255.70 L313.15,255.86 L313.62,256.04 L314.09,256.21 L314.55,256.39 L315.02,256.57 L315.49,256.76 L315.95,256.95 L316.41,257.14 L316.87,257.34 L317.33,257.54 L317.79,257.75 L318.24,257.96 L318.69,258.17 L319.14,258.39 L319.59,258.62 L320.03,258.85 L320.47,259.08 L320.91,259.32 L321.35,259.56 L321.78,259.81 L322.22,260.06 L322.65,260.32 L323.07,260.58 L323.50,260.84 L323.92,261.11 L324.34,261.38 L324.76,261.66 L325.17,261.93 L325.59,262.21 L326.00,262.50 L326.41,262.78 L326.82,263.07 L327.23,263.36 L327.64,263.66 L328.04,263.95 L328.44,264.25 L328.84,264.55 L329.24,264.85 L329.64,265.16 L330.03,265.47 L330.42,265.78 L330.81,266.10 L331.20,266.42 L331.58,266.74 L331.96,267.06 L332.33,267.39 L332.70,267.73 L333.07,268.07 L333.44,268.41 L333.80,268.75 L334.15,269.10 L334.51,269.46 L334.86,269.81 L335.20,270.17 L335.55,270.54 L335.89,270.90 L336.23,271.27 L336.56,271.64 L336.90,272.02 L337.23,272.39 L337.56,272.77 L337.89,273.15 L338.21,273.53 L338.53,273.91 L338.85,274.30 L339.17,274.68 L339.49,275.07 L339.80,275.46 L340.11,275.86 L340.41,276.25 L340.72,276.65 L341.01,277.05 L341.31,277.45 L341.60,277.86 L341.89,278.27 L342.17,278.68 L342.45,279.09 L342.73,279.51 L343.00,279.93 L343.27,280.35 L343.54,280.77 L343.80,281.20 L344.06,281.63 L344.32,282.05 L344.58,282.49 L344.83,282.92 L345.08,283.35 L345.33,283.79 L345.57,284.22 L345.82,284.66 L346.06,285.10 L346.30,285.53 L346.54,285.97 L346.78,286.41 L347.02,286.85 L347.25,287.29 L347.49,287.74 L347.72,288.18 L347.96,288.62 L348.19,289.06 L348.43,289.50 L348.66,289.94 L348.90,290.38 L349.14,290.82 L349.38,291.26 L349.62,291.70 L349.86,292.13 L350.11,292.57 L350.35,293.01 L350.60,293.44 L350.85,293.88 L351.09,294.31 L351.34,294.75 L351.57,295.19 L351.81,295.63 L352.04,296.07 L352.26,296.52 L352.48,296.97 L352.70,297.42 L352.91,297.87 L353.13,298.32 L353.34,298.77 L353.56,299.22 L353.79,299.68 L354.02,300.12 L354.26,300.57 L354.51,301.00 L354.78,301.43 L355.06,301.84 L355.36,302.23 L355.68,302.61 L356.03,302.96 L356.41,303.29 L356.81,303.59 L357.24,303.87 L357.30,303.90 L357.70,302.96 L358.10,302.07 L358.50,301.23 L358.90,300.44 L359.30,299.69 L359.70,298.99 L360.10,298.34 L360.50,297.73 L360.90,297.17 L361.30,296.65 L361.70,296.18 L362.10,295.75 L362.50,295.36 L362.90,295.01 L363.30,294.71 L363.70,294.45 L364.10,294.22 L364.50,294.04 L364.90,293.90 L365.30,293.79 L365.70,293.73 L366.10,293.70 L366.50,293.74 L366.90,293.92 L367.30,294.22 L367.70,294.63 L368.10,295.13 L368.50,295.71 L368.90,296.37 L369.30,297.07 L369.70,297.81 L370.10,298.57 L370.50,299.33 L370.90,300.09 L371.30,300.83 L371.70,301.53 L372.10,302.19 L372.50,302.77 L372.90,303.27 L373.30,303.68 L373.70,303.98 L374.10,304.16 L374.50,304.20 L374.90,304.12 L375.30,303.93 L375.70,303.66 L376.10,303.31 L376.50,302.90 L376.90,302.42 L377.30,301.90 L377.70,301.34 L378.10,300.75 L378.50,300.15 L378.90,299.55 L379.30,298.95 L379.70,298.36 L380.10,297.80 L380.50,297.28 L380.90,296.80 L381.30,296.39 L381.70,296.04 L382.10,295.77 L382.50,295.58 L382.90,295.50 L383.30,295.53 L383.70,295.65 L384.10,295.85 L384.50,296.13 L384.90,296.48 L385.30,296.88 L385.70,297.33 L386.10,297.82 L386.50,298.34 L386.90,298.88 L387.30,299.43 L387.70,299.98 L388.10,300.52 L388.50,301.05 L388.90,301.55 L389.30,302.01 L389.70,302.43 L390.10,302.79 L390.50,303.09 L390.90,303.31 L391.30,303.45 L391.70,303.50 L392.10,303.46 L392.50,303.34 L392.90,303.16 L393.30,302.92 L393.70,302.62 L394.10,302.28 L394.50,301.91 L394.90,301.50 L395.30,301.07 L395.70,300.63 L396.10,300.19 L396.50,299.74 L396.90,299.31 L397.30,298.89 L397.70,298.50 L398.10,298.14 L398.50,297.82 L398.90,297.55 L399.30,297.34 L399.70,297.19 L400.10,297.11 L400.50,297.11 L400.90,297.17 L401.30,297.30 L401.70,297.47 L402.10,297.69 L402.50,297.96 L402.90,298.25 L403.30,298.58 L403.70,298.93 L404.10,299.29 L404.50,299.67 L404.90,300.04 L405.30,300.42 L405.70,300.79 L406.10,301.15 L406.50,301.49 L406.90,301.80 L407.30,302.08 L407.70,302.32 L408.10,302.52 L408.50,302.67 L408.90,302.77 L409.30,302.80 L409.70,302.77 L410.10,302.68 L410.50,302.54 L410.90,302.36 L411.30,302.13 L411.70,301.87 L412.10,301.58 L412.50,301.27 L412.90,300.94 L413.30,300.59 L413.70,300.24 L414.10,299.89 L414.50,299.55 L414.90,299.21 L415.30,298.90 L415.70,298.60 L416.10,298.33 L416.50,298.10 L416.90,297.90 L417.30,297.75 L417.70,297.65 L418.10,297.60 L418.50,297.62 L418.90,297.68 L419.30,297.80 L419.70,297.96 L420.10,298.16 L420.50,298.40 L420.90,298.66 L421.30,298.94 L421.70,299.25 L422.10,299.56 L422.50,299.89 L422.90,300.21 L423.30,300.54 L423.70,300.85 L424.10,301.16 L424.50,301.44 L424.90,301.70 L425.30,301.94 L425.70,302.14 L426.10,302.30 L426.50,302.42 L426.90,302.48 L427.30,302.50 L427.70,302.46 L428.10,302.36 L428.50,302.22 L428.90,302.04 L429.30,301.82 L429.70,301.58 L430.10,301.31 L430.50,301.01 L430.90,300.71 L431.30,300.39 L431.70,300.07 L432.10,299.75 L432.50,299.44 L432.90,299.14 L433.30,298.86 L433.70,298.60 L434.10,298.36 L434.50,298.16 L434.90,298.00 L435.30,297.88 L435.70,297.82 L436.10,297.80 L436.50,297.84 L436.90,297.93 L437.30,298.06 L437.70,298.23 L438.10,298.43 L438.50,298.67 L438.90,298.93 L439.30,299.20 L439.70,299.49 L440.10,299.79 L440.50,300.10 L440.90,300.41 L441.30,300.71 L441.70,301.00 L442.10,301.27 L442.50,301.53 L442.90,301.77 L443.30,301.97 L443.70,302.14 L444.10,302.27 L444.50,302.36 L444.90,302.40 L445.30,302.38 L445.70,302.32 L446.10,302.22 L446.50,302.10 L446.80,302.00"/>
<path stroke="#80ff00" d="M35.60,239.50 L36.09,239.62 L36.58,239.75 L37.06,239.89 L37.53,240.03 L38.01,240.19 L38.48,240.36 L38.95,240.53 L39.42,240.71 L39.88,240.89 L40.34,241.08 L40.80,241.27 L41.26,241.47 L41.72,241.66 L42.18,241.86 L42.64,242.06 L43.10,242.26 L43.56,242.45 L44.02,242.64 L44.49,242.83 L44.95,243.02 L45.42,243.20 L45.89,243.38 L46.36,243.55 L46.83,243.71 L47.31,243.87 L47.78,244.02 L48.26,244.16 L48.74,244.30 L49.23,244.43 L49.71,244.55 L50.20,244.67 L50.69,244.78 L51.18,244.87 L51.67,244.97 L52.16,245.05 L52.65,245.13 L53.15,245.20 L53.65,245.27 L54.14,245.33 L54.64,245.38 L55.14,245.43 L55.64,245.48 L56.14,245.52 L56.63,245.56 L57.13,245.59 L57.63,245.62 L58.13,245.65 L58.63,245.67 L59.13,245.68 L59.63,245.70 L60.13,245.71 L60.63,245.71 L61.13,245.71 L61.63,245.71 L62.13,245.71 L62.63,245.70 L63.13,245.70 L63.63,245.69 L64.13,245.68 L64.63,245.67 L65.13,245.65 L65.63,245.64 L66.13,245.63 L66.63,245.62 L67.13,245.60 L67.63,245.59 L68.13,245.58 L68.63,245.57 L69.13,245.56 L69.63,245.56 L70.13,245.55 L70.63,245.54 L71.13,245.54 L71.63,245.53 L72.13,245.53 L72.63,245.52 L73.13,245.52 L73.63,245.51 L74.13,245.51 L74.63,245.51 L75.13,245.51 L75.63,245.51 L76.13,245.50 L76.63,245.50 L77.13,245.50 L77.63,245.50 L78.13,245.50 L78.63,245.50 L79.13,245.50 L79.63,245.50 L80.13,245.50 L80.63,245.50 L81.13,245.50 L81.63,245.50 L82.13,245.50 L82.63,245.50 L83.13,245.50 L83.63,245.50 L84.13,245.50 L84.63,245.50 L85.13,245.50 L85.63,245.50 L86.13,245.50 L86.63,245.50 L87.13,245.50 L87.63,245.50 L88.13,245.50 L88.63,245.50 L89.13,245.50 L89.63,245.50 L90.13,245.50 L90.63,245.50 L91.13,245.50 L91.63,245.50 L92.13,245.50 L92.63,245.50 L93.13,245.50 L93.63,245.50 L94.13,245.50 L94.63,245.50 L95.13,245.50 L95.63,245.50 L96.13,245.50 L96.63,245.50 L97.13,245.50 L97.63,245.50 L98.13,245.50 L98.63,245.50 L99.13,245.50 L99.63,245.50 L100.13,245.50 L100.63,245.50 L101.13,245.50 L101.63,245.50 L102.13,245.50 L102.63,245.50 L103.13,245.50 L103.63,245.50 L104.13,245.50 L104.63,245.50 L105.13,245.50 L105.63,245.50 L106.13,245.50 L106.63,245.50 L107.13,245.50 L107.63,245.50 L108.13,245.50 L108.63,245.50 L109.13,245.50 L109.63,245.50 L110.13,245.50 L110.63,245.50 L111.13,245.50 L111.63,245.50 L112.13,245.50 L112.63,245.50 L113.13,245.50 L113.63,245.50 L114.13,245.50 L114.63,245.50 L115.13,245.50 L115.63,245.50 L116.13,245.50 L116.63,245.50 L117.13,245.50 L117.63,245.50 L118.13,245.49 L118.63,245.49 L119.13,245.49 L119.63,245.49 L120.13,245.49 L120.63,245.49 L121.13,245.49 L121.63,245.49 L122.13,245.49 L122.63,245.49 L123.13,245.49 L123.63,245.49 L124.13,245.49 L124.63,245.49 L125.13,245.49 L125.63,245.49 L126.13,245.49 L126.63,245.49 L127.13,245.49 L127.63,245.49 L128.13,245.49 L128.63,245.49 L129.13,245.49 L129.63,245.48 L130.13,245.48 L130.63,245.48 L131.13,245.48 L131.63,245.48 L132.13,245.48 L132.63,245.48 L133.13,245.48 L133.63,245.48 L134.13,245.48 L134.63,245.48 L135.13,245.48 L135.63,245.48 L136.13,245.48 L136.63,245.48 L137.13,245.48 L137.63,245.48 L138.13,245.48 L138.63,245.48 L139.13,245.48 L139.63,245.48 L140.13,245.48 L140.63,245.48 L141.13,245.48 L141.63,245.48 L142.13,245.48 L142.63,245.48 L143.13,245.48 L143.63,245.48 L144.13,245.48 L144.63,245.48 L145.13,245.48 L145.63,245.48 L146.13,245.48 L146.63,245.48 L147.13,245.48 L147.63,245.48 L148.13,245.48 L148.63,245.48 L149.13,245.48 L149.63,245.48 L150.13,245.48 L150.63,245.48 L151.13,245.48 L151.63,245.48 L152.13,245.48 L152.63,245.49 L153.13,245.49 L153.63,245.49 L154.13,245.49 L154.63,245.49 L155.13,245.49 L155.63,245.49 L156.13,245.49 L156.63,245.49 L157.13,245.49 L157.63,245.49 L158.13,245.50 L158.63,245.50 L159.13,245.50 L159.63,245.50 L160.13,245.50 L160.63,245.50 L161.13,245.50 L161.63,245.50 L162.13,245.51 L162.63,245.51 L163.13,245.51 L163.63,245.51 L164.13,245.51 L164.63,245.51 L165.13,245.52 L165.63,245.52 L166.13,245.52 L166.63,245.52 L167.13,245.52 L167.63,245.53 L168.13,245.53 L168.63,245.53 L169.13,245.53 L169.63,245.54 L170.13,245.54 L170.63,245.54 L171.13,245.54 L171.63,245.55 L172.13,245.55 L172.63,245.55 L173.13,245.56 L173.63,245.56 L174.13,245.56 L174.63,245.57 L175.13,245.57 L175.63,245.57 L176.13,245.58 L176.63,245.58 L177.13,245.58 L177.63,245.59 L178.13,245.59 L178.63,245.59 L179.13,245.60 L179.63,245.60 L180.13,245.61 L180.63,245.61 L181.13,245.62 L181.63,245.62 L182.13,245.63 L182.63,245.63 L183.13,245.63 L183.63,245.64 L184.13,245.64 L184.63,245.65 L185.13,245.66 L185.63,245.66 L186.13,245.67 L186.63,245.67 L187.13,245.68 L187.63,245.68 L188.13,245.69 L188.63,245.70 L189.13,245.70 L189.63,245.71 L190.13,245.71 L190.63,245.72 L191.13,245.73 L191.63,245.74 L192.13,245.74 L192.63,245.75 L193.13,245.76 L193.63,245.76 L194.13,245.77 L194.63,245.78 L195.13,245.79 L195.63,245.79 L196.13,245.80 L196.63,245.81 L197.13,245.82 L197.63,245.83 L198.13,245.84 L198.63,245.84 L199.13,245.85 L199.63,245.86 L200.13,245.87 L200.63,245.88 L201.13,245.89 L201.63,245.90 L202.13,245.91 L202.63,245.92 L203.13,245.93 L203.63,245.94 L204.13,245.95 L204.63,245.96 L205.13,245.97 L205.63,245.98 L206.13,245.99 L206.63,246.01 L207.13,246.02 L207.63,246.03 L208.13,246.04 L208.63,246.05 L209.13,246.07 L209.63,246.08 L210.13,246.09 L210.63,246.10 L211.13,246.12 L211.63,246.13 L212.13,246.15 L212.63,246.16 L213.13,246.17 L213.63,246.19 L214.13,246.20 L214.63,246.22 L215.13,246.23 L215.63,246.25 L216.13,246.27 L216.62,246.28 L217.12,246.30 L217.62,246.32 L218.12,246.33 L218.62,246.35 L219.12,246.37 L219.62,246.39 L220.12,246.41 L220.62,246.42 L221.12,246.44 L221.62,246.46 L222.12,246.48 L222.62,246.50 L223.12,246.52 L223.62,246.54 L224.12,246.57 L224.62,246.59 L225.12,246.61 L225.62,246.63 L226.12,246.65 L226.62,246.68 L227.12,246.70 L227.62,246.73 L228.12,246.75 L228.61,246.77 L229.11,246.80 L229.61,246.83 L230.11,246.85 L230.61,246.88 L231.11,246.91 L231.61,246.93 L232.11,246.96 L232.61,246.99 L233.11,247.02 L233.61,247.05 L234.11,247.08 L234.61,247.11 L235.10,247.14 L235.60,247.17 L236.10,247.20 L236.60,247.23 L237.10,247.26 L237.60,247.30 L238.10,247.33 L238.60,247.37 L239.10,247.40 L239.59,247.44 L240.09,247.47 L240.59,247.51 L241.09,247.54 L241.59,247.58 L242.09,247.62 L242.59,247.66 L243.09,247.70 L243.58,247.74 L244.08,247.77 L244.58,247.82 L245.08,247.86 L245.58,247.90 L246.08,247.94 L246.57,247.98 L247.07,248.03 L247.57,248.07 L248.07,248.12 L248.57,248.16 L249.06,248.21 L249.56,248.25 L250.06,248.30 L250.56,248.35 L251.05,248.40 L251.55,248.44 L252.05,248.49 L252.55,248.54 L253.04,248.59 L253.54,248.65 L254.04,248.70 L254.54,248.75 L255.03,248.80 L255.53,248.86 L256.03,248.91 L256.52,248.97 L257.02,249.02 L257.52,249.08 L258.02,249.14 L258.51,249.19 L259.01,249.25 L259.50,249.31 L260.00,249.37 L260.50,249.43 L260.99,249.49 L261.49,249.55 L261.99,249.61 L262.48,249.68 L262.98,249.74 L263.47,249.80 L263.97,249.87 L264.47,249.93 L264.96,250.00 L265.46,250.06 L265.95,250.13 L266.45,250.19 L266.95,250.26 L267.44,250.33 L267.94,250.40 L268.43,250.46 L268.93,250.53 L269.42,250.61 L269.92,250.68 L270.41,250.75 L270.91,250.83 L271.40,250.90 L271.89,250.98 L272.39,251.06 L272.88,251.14 L273.37,251.22 L273.87,251.30 L274.36,251.39 L274.85,251.47 L275.34,251.56 L275.84,251.65 L276.33,251.74 L276.82,251.84 L277.31,251.93 L277.80,252.02 L278.29,252.12 L278.78,252.21 L279.28,252.30 L279.77,252.39 L280.26,252.49 L280.75,252.58 L281.24,252.67 L281.73,252.75 L282.23,252.84 L282.72,252.92 L283.21,253.01 L283.71,253.09 L284.20,253.17 L284.69,253.26 L285.19,253.34 L285.68,253.43 L286.17,253.53 L286.66,253.63 L287.15,253.73 L287.63,253.84 L288.12,253.96 L288.61,254.08 L289.09,254.21 L289.57,254.34 L290.05,254.48 L290.53,254.63 L291.01,254.77 L291.49,254.93 L291.96,255.09 L292.43,255.25 L292.91,255.42 L293.38,255.59 L293.84,255.77 L294.31,255.95 L294.78,256.13 L295.24,256.32 L295.70,256.52 L296.16,256.72 L296.61,256.93 L297.06,257.14 L297.51,257.36 L297.96,257.58 L298.41,257.81 L298.85,258.04 L299.29,258.28 L299.73,258.53 L300.16,258.77 L300.59,259.03 L301.02,259.29 L301.45,259.55 L301.87,259.82 L302.29,260.09 L302.71,260.36 L303.13,260.64 L303.54,260.92 L303.95,261.21 L304.36,261.50 L304.76,261.79 L305.17,262.09 L305.57,262.39 L305.97,262.69 L306.37,262.99 L306.76,263.30 L307.15,263.61 L307.54,263.92 L307.93,264.23 L308.32,264.55 L308.70,264.87 L309.09,265.19 L309.47,265.52 L309.85,265.84 L310.22,266.17 L310.60,266.50 L310.97,266.84 L311.34,267.18 L311.70,267.52 L312.06,267.87 L312.42,268.22 L312.77,268.57 L313.12,268.93 L313.47,269.29 L313.81,269.65 L314.16,270.01 L314.49,270.38 L314.83,270.75 L315.17,271.12 L315.50,271.50 L315.83,271.87 L316.16,272.25 L316.49,272.63 L316.81,273.01 L317.13,273.39 L317.46,273.77 L317.77,274.16 L318.09,274.55 L318.40,274.94 L318.70,275.33 L319.01,275.73 L319.31,276.13 L319.60,276.54 L319.90,276.94 L320.18,277.35 L320.47,277.76 L320.76,278.17 L321.04,278.58 L321.31,279.00 L321.59,279.42 L321.86,279.84 L322.14,280.26 L322.41,280.68 L322.67,281.10 L322.94,281.52 L323.21,281.95 L323.47,282.37 L323.73,282.80 L323.99,283.22 L324.25,283.65 L324.51,284.08 L324.77,284.51 L325.02,284.94 L325.28,285.37 L325.53,285.80 L325.78,286.23 L326.03,286.66 L326.28,287.10 L326.53,287.53 L326.78,287.97 L327.03,288.40 L327.27,288.84 L327.52,289.28 L327.76,289.71 L328.00,290.15 L328.24,290.59 L328.48,291.03 L328.71,291.47 L328.94,291.92 L329.17,292.36 L329.40,292.80 L329.62,293.25 L329.85,293.69 L330.06,294.14 L330.28,294.59 L330.50,295.04 L330.71,295.49 L330.93,295.94 L331.14,296.39 L331.35,296.84 L331.57,297.29 L331.79,297.74 L332.01,298.19 L332.23,298.65 L332.45,299.10 L332.68,299.55 L332.91,300.01 L333.15,300.45 L333.40,300.89 L333.66,301.32 L333.94,301.74 L334.23,302.14 L334.55,302.52 L334.88,302.88 L335.24,303.22 L335.63,303.53 L336.05,303.81 L336.49,304.06 L336.80,304.20 L337.20,303.28 L337.60,302.39 L338.00,301.55 L338.40,300.76 L338.80,300.00 L339.20,299.29 L339.60,298.63 L340.00,298.00 L340.40,297.42 L340.80,296.88 L341.20,296.38 L341.60,295.92 L342.00,295.51 L342.40,295.14 L342.80,294.81 L343.20,294.53 L343.60,294.28 L344.00,294.08 L344.40,293.92 L344.80,293.81 L345.20,293.73 L345.60,293.70 L346.00,293.74 L346.40,293.89 L346.80,294.14 L347.20,294.50 L347.60,294.94 L348.00,295.45 L348.40,296.01 L348.80,296.63 L349.20,297.28 L349.60,297.96 L350.00,298.65 L350.40,299.34 L350.80,300.02 L351.20,300.67 L351.60,301.29 L352.00,301.85 L352.40,302.36 L352.80,302.80 L353.20,303.16 L353.60,303.41 L354.00,303.56 L354.40,303.60 L354.80,303.51 L355.20,303.33 L355.60,303.05 L356.00,302.69 L356.40,302.27 L356.80,301.78 L357.20,301.26 L357.60,300.70 L358.00,300.12 L358.40,299.53 L358.80,298.94 L359.20,298.36 L359.60,297.81 L360.00,297.29 L360.40,296.82 L360.80,296.41 L361.20,296.07 L361.60,295.82 L362.00,295.66 L362.40,295.60 L362.80,295.65 L363.20,295.79 L363.60,296.02 L364.00,296.31 L364.40,296.67 L364.80,297.09 L365.20,297.54 L365.60,298.04 L366.00,298.55 L366.40,299.08 L366.80,299.62 L367.20,300.15 L367.60,300.66 L368.00,301.16 L368.40,301.61 L368.80,302.03 L369.20,302.39 L369.60,302.68 L370.00,302.91 L370.40,303.05 L370.80,303.10 L371.20,303.06 L371.60,302.95 L372.00,302.78 L372.40,302.55 L372.80,302.27 L373.20,301.95 L373.60,301.60 L374.00,301.22 L374.40,300.82 L374.80,300.41 L375.20,299.99 L375.60,299.58 L376.00,299.18 L376.40,298.80 L376.80,298.45 L377.20,298.13 L377.60,297.85 L378.00,297.62 L378.40,297.45 L378.80,297.34 L379.20,297.30 L379.60,297.33 L380.00,297.42 L380.40,297.55 L380.80,297.74 L381.20,297.96 L381.60,298.21 L382.00,298.50 L382.40,298.80 L382.80,299.13 L383.20,299.46 L383.60,299.80 L384.00,300.14 L384.40,300.47 L384.80,300.80 L385.20,301.10 L385.60,301.39 L386.00,301.64 L386.40,301.86 L386.80,302.05 L387.20,302.18 L387.60,302.27 L388.00,302.30 L388.40,302.27 L388.80,302.20 L389.20,302.08 L389.60,301.93 L390.00,301.73 L390.40,301.51 L390.80,301.27 L391.20,301.01 L391.60,300.73 L392.00,300.44 L392.40,300.15 L392.80,299.86 L393.20,299.57 L393.60,299.29 L394.00,299.03 L394.40,298.79 L394.80,298.57 L395.20,298.37 L395.60,298.22 L396.00,298.10 L396.40,298.03 L396.80,298.00 L397.20,298.03 L397.60,298.10 L398.00,298.21 L398.40,298.37 L398.80,298.55 L399.20,298.77 L399.60,299.01 L400.00,299.27 L400.40,299.54 L400.80,299.82 L401.20,300.11 L401.60,300.40 L402.00,300.69 L402.40,300.96 L402.80,301.23 L403.20,301.47 L403.60,301.69 L404.00,301.89 L404.40,302.05 L404.80,302.18 L405.20,302.26 L405.60,302.30 L406.00,302.29 L406.40,302.22 L406.80,302.12 L407.20,301.97 L407.60,301.80 L408.00,301.59 L408.40,301.35 L408.80,301.10 L409.20,300.83 L409.60,300.55 L410.00,300.26 L410.40,299.97 L410.80,299.68 L411.20,299.40 L411.60,299.14 L412.00,298.89 L412.40,298.66 L412.80,298.46 L413.20,298.29 L413.60,298.15 L414.00,298.06 L414.40,298.01 L414.80,298.01 L415.20,298.05 L415.60,298.15 L416.00,298.28 L416.40,298.45 L416.80,298.64 L417.20,298.87 L417.60,299.11 L418.00,299.37 L418.40,299.64 L418.80,299.92 L419.20,300.21 L419.60,300.49 L420.00,300.76 L420.40,301.03 L420.80,301.27 L421.20,301.50 L421.60,301.71 L422.00,301.88 L422.40,302.02 L422.80,302.13 L423.20,302.19 L423.60,302.20 L424.00,302.16 L424.40,302.08 L424.80,301.96 L425.20,301.80 L425.60,301.61 L426.00,301.40 L426.40,301.16 L426.80,300.90 L427.20,300.64 L427.60,300.36 L428.00,300.08 L428.40,299.80 L428.80,299.53 L429.20,299.27 L429.60,299.02 L430.00,298.79 L430.40,298.59 L430.80,298.42 L431.20,298.28 L431.60,298.17 L432.00,298.11 L432.40,298.10 L432.80,298.14 L433.20,298.22 L433.60,298.34 L434.00,298.49 L434.40,298.68 L434.80,298.89 L435.20,299.12 L435.60,299.37 L436.00,299.64 L436.40,299.91 L436.80,300.18 L437.20,300.46 L437.60,300.73 L438.00,300.99 L438.40,301.24 L438.80,301.47 L439.20,301.67 L439.60,301.85 L440.00,302.00 L440.40,302.11 L440.80,302.18 L441.20,302.20 L441.60,302.18 L442.00,302.12 L442.40,302.03 L442.80,301.91 L443.20,301.75 L443.60,301.56 L444.00,301.34 L444.40,301.10 L444.80,300.84 L445.20,300.55 L445.60,300.24 L446.00,299.91 L446.40,299.56 L446.80,299.20"/>
<path stroke="#00ffff" stroke-width="1.3" d="M35.60,155.60 L36.10,155.60 L36.60,155.61 L37.10,155.62 L37.60,155.63 L38.10,155.64 L38.60,155.65 L39.10,155.67 L39.60,155.68 L40.10,155.70 L40.60,155.72 L41.10,155.74 L41.60,155.76 L42.10,155.78 L42.60,155.80 L43.10,155.83 L43.60,155.85 L44.10,155.88 L44.59,155.91 L45.09,155.93 L45.59,155.96 L46.09,155.99 L46.59,156.02 L47.09,156.05 L47.59,156.08 L48.09,156.11 L48.59,156.14 L49.09,156.17 L49.59,156.20 L50.08,156.23 L50.58,156.27 L51.08,156.30 L51.58,156.33 L52.08,156.36 L52.58,156.39 L53.08,156.42 L53.58,156.46 L54.08,156.49 L54.58,156.52 L55.08,156.55 L55.57,156.58 L56.07,156.61 L56.57,156.64 L57.07,156.67 L57.57,156.71 L58.07,156.74 L58.57,156.78 L59.07,156.82 L59.56,156.86 L60.06,156.91 L60.56,156.95 L61.06,157.01 L61.56,157.06 L62.05,157.12 L62.55,157.18 L63.05,157.25 L63.54,157.31 L64.04,157.39 L64.53,157.46 L65.02,157.55 L65.52,157.63 L66.01,157.72 L66.50,157.82 L66.99,157.92 L67.48,158.02 L67.97,158.13 L68.46,158.24 L68.94,158.36 L69.43,158.48 L69.91,158.61 L70.39,158.75 L70.88,158.89 L71.36,159.03 L71.83,159.18 L72.31,159.33 L72.79,159.49 L73.26,159.65 L73.73,159.82 L74.20,159.99 L74.67,160.17 L75.14,160.35 L75.60,160.53 L76.07,160.72 L76.53,160.92 L76.99,161.12 L77.44,161.32 L77.90,161.53 L78.35,161.74 L78.80,161.95 L79.25,162.17 L79.70,162.40 L80.15,162.62 L80.59,162.85 L81.03,163.09 L81.47,163.33 L81.91,163.57 L82.35,163.81 L82.78,164.06 L83.21,164.31 L83.64,164.57 L84.07,164.83 L84.50,165.09 L84.93,165.35 L85.35,165.62 L85.77,165.89 L86.19,166.16 L86.61,166.44 L87.03,166.71 L87.45,167.00 L87.86,167.28 L88.27,167.57 L88.68,167.86 L89.09,168.15 L89.49,168.45 L89.90,168.75 L90.29,169.05 L90.69,169.36 L91.08,169.67 L91.47,169.99 L91.86,170.31 L92.24,170.63 L92.62,170.96 L92.99,171.29 L93.36,171.62 L93.73,171.96 L94.09,172.30 L94.45,172.65 L94.81,173.01 L95.15,173.36 L95.50,173.72 L95.84,174.09 L96.17,174.46 L96.51,174.84 L96.83,175.21 L97.16,175.59 L97.48,175.98 L97.79,176.37 L98.10,176.76 L98.41,177.15 L98.72,177.55 L99.02,177.95 L99.32,178.35 L99.62,178.76 L99.91,179.16 L100.21,179.57 L100.50,179.98 L100.78,180.39 L101.07,180.80 L101.35,181.22 L101.63,181.63 L101.91,182.05 L102.18,182.47 L102.45,182.89 L102.72,183.31 L102.99,183.73 L103.25,184.16 L103.51,184.59 L103.77,185.02 L104.02,185.45 L104.27,185.88 L104.51,186.31 L104.76,186.75 L104.99,187.19 L105.23,187.63 L105.46,188.07 L105.69,188.52 L105.91,188.97 L106.13,189.41 L106.35,189.86 L106.57,190.31 L106.78,190.77 L106.99,191.22 L107.20,191.67 L107.41,192.13 L107.61,192.59 L107.82,193.04 L108.02,193.50 L108.22,193.96 L108.42,194.42 L108.62,194.88 L108.82,195.34 L109.02,195.80 L109.21,196.26 L109.41,196.72 L109.60,197.18 L109.79,197.64 L109.98,198.11 L110.16,198.57 L110.34,199.04 L110.52,199.50 L110.70,199.97 L110.87,200.44 L111.04,200.91 L111.20,201.39 L111.36,201.86 L111.51,202.34 L111.66,202.81 L111.81,203.29 L111.96,203.77 L112.10,204.25 L112.25,204.73 L112.39,205.20 L112.54,205.68 L112.68,206.16 L112.83,206.64 L112.98,207.12 L113.13,207.59 L113.29,208.07 L113.45,208.54 L113.61,209.01 L113.78,209.48 L113.95,209.95 L114.13,210.42 L114.31,210.89 L114.49,211.35 L114.67,211.82 L114.86,212.28 L115.05,212.74 L115.24,213.20 L115.44,213.67 L115.63,214.13 L115.82,214.59 L116.02,215.05 L116.21,215.51 L116.41,215.97 L116.60,216.43 L116.79,216.90 L116.98,217.36 L117.17,217.82 L117.36,218.29 L117.54,218.75 L117.73,219.22 L117.91,219.68 L118.08,220.15 L118.26,220.62 L118.43,221.09 L118.60,221.56 L118.77,222.03 L118.93,222.50 L119.09,222.98 L119.25,223.45 L119.41,223.93 L119.56,224.40 L119.70,224.88 L119.85,225.36 L119.99,225.84 L120.12,226.32 L120.26,226.80 L120.39,227.29 L120.52,227.77 L120.65,228.25 L120.78,228.74 L120.91,229.22 L121.04,229.70 L121.17,230.19 L121.30,230.67 L121.43,231.15 L121.57,231.63 L121.71,232.11 L121.85,232.59 L122.00,233.07 L122.15,233.54 L122.31,234.02 L122.47,234.49 L122.63,234.96 L122.80,235.43 L122.98,235.90 L123.15,236.37 L123.33,236.83 L123.51,237.30 L123.70,237.76 L123.88,238.23 L124.07,238.69 L124.26,239.16 L124.45,239.62 L124.63,240.09 L124.82,240.55 L125.01,241.01 L125.19,241.48 L125.38,241.95 L125.56,242.41 L125.74,242.88 L125.92,243.35 L126.10,243.81 L126.28,244.28 L126.46,244.75 L126.64,245.21 L126.83,245.67 L127.02,246.14 L127.21,246.60 L127.40,247.06 L127.59,247.52 L127.79,247.98 L128.00,248.43 L128.21,248.88 L128.42,249.34 L128.63,249.79 L128.85,250.23 L129.08,250.68 L129.31,251.13 L129.54,251.57 L129.78,252.01 L130.02,252.45 L130.27,252.90 L130.52,253.33 L130.78,253.77 L131.05,254.19 L131.33,254.61 L131.63,255.01 L131.94,255.40 L132.27,255.78 L132.62,256.13 L132.99,256.47 L133.39,256.78 L133.80,257.07 L134.23,257.34 L134.68,257.58 L135.13,257.79 L135.60,257.98 L136.08,258.14 L136.56,258.27 L137.05,258.37 L137.55,258.44 L138.04,258.50 L138.54,258.54 L139.04,258.56 L139.55,258.58 L140.05,258.59 L140.55,258.60 L141.06,258.61 L141.56,258.62 L142.06,258.64 L142.56,258.66 L143.06,258.69 L143.55,258.73 L144.05,258.78 L144.55,258.84 L145.04,258.91 L145.54,258.99 L146.03,259.08 L146.52,259.19 L147.01,259.31 L147.49,259.45 L147.96,259.60 L148.43,259.77 L148.90,259.96 L149.35,260.17 L149.80,260.39 L150.25,260.62 L150.68,260.87 L151.11,261.13 L151.54,261.39 L151.96,261.67 L152.37,261.95 L152.78,262.24 L153.18,262.54 L153.58,262.84 L153.97,263.15 L154.37,263.46 L154.75,263.77 L155.14,264.09 L155.53,264.41 L155.91,264.73 L156.30,265.05 L156.68,265.37 L157.06,265.70 L157.43,266.03 L157.81,266.36 L158.17,266.70 L158.54,267.04 L158.89,267.39 L159.25,267.75 L159.59,268.11 L159.94,268.47 L160.28,268.84 L160.61,269.21 L160.94,269.59 L161.26,269.97 L161.59,270.35 L161.90,270.74 L162.22,271.13 L162.53,271.52 L162.84,271.91 L163.15,272.31 L163.45,272.71 L163.75,273.11 L164.06,273.51 L164.35,273.91 L164.65,274.31 L164.95,274.71 L165.24,275.12 L165.54,275.52 L165.83,275.93 L166.12,276.33 L166.42,276.74 L166.71,277.15 L167.00,277.55 L167.28,277.96 L167.57,278.37 L167.86,278.78 L168.15,279.18 L168.44,279.59 L168.72,280.00 L169.01,280.41 L169.30,280.82 L169.58,281.23 L169.87,281.64 L170.15,282.06 L170.43,282.47 L170.71,282.88 L170.99,283.30 L171.27,283.71 L171.55,284.13 L171.82,284.55 L172.09,284.97 L172.36,285.39 L172.63,285.81 L172.90,286.23 L173.16,286.66 L173.42,287.09 L173.68,287.51 L173.94,287.94 L174.20,288.37 L174.45,288.80 L174.71,289.24 L174.96,289.67 L175.21,290.10 L175.46,290.53 L175.71,290.97 L175.96,291.40 L176.20,291.83 L176.45,292.26 L176.70,292.70 L176.94,293.13 L177.19,293.56 L177.44,293.99 L177.68,294.43 L177.93,294.86 L178.17,295.29 L178.42,295.73 L178.66,296.16 L178.91,296.60 L179.16,297.03 L179.40,297.47 L179.65,297.91 L179.89,298.35 L180.14,298.79 L180.39,299.24 L180.64,299.68 L180.89,300.12 L181.16,300.55 L181.43,300.97 L181.72,301.38 L182.02,301.77 L182.35,302.14 L182.69,302.49 L183.06,302.81 L183.46,303.11 L183.89,303.37 L184.36,303.60 L184.60,303.70 L185.00,302.72 L185.40,301.80 L185.80,300.94 L186.20,300.12 L186.60,299.36 L187.00,298.66 L187.40,298.00 L187.80,297.39 L188.20,296.83 L188.60,296.32 L189.00,295.86 L189.40,295.45 L189.80,295.07 L190.20,294.75 L190.60,294.46 L191.00,294.22 L191.40,294.02 L191.80,293.86 L192.20,293.74 L192.60,293.66 L193.00,293.61 L193.40,293.61 L193.80,293.73 L194.20,294.00 L194.60,294.41 L195.00,294.93 L195.40,295.54 L195.80,296.23 L196.20,296.97 L196.60,297.75 L197.00,298.55 L197.40,299.35 L197.80,300.12 L198.20,300.86 L198.60,301.54 L199.00,302.14 L199.40,302.65 L199.80,303.04 L200.20,303.29 L200.60,303.40 L201.00,303.36 L201.40,303.22 L201.80,303.00 L202.20,302.70 L202.60,302.33 L203.00,301.91 L203.40,301.43 L203.80,300.93 L204.20,300.39 L204.60,299.84 L205.00,299.27 L205.40,298.72 L205.80,298.17 L206.20,297.65 L206.60,297.17 L207.00,296.72 L207.40,296.33 L207.80,296.00 L208.20,295.75 L208.60,295.58 L209.00,295.50 L209.40,295.53 L209.80,295.66 L210.20,295.88 L210.60,296.18 L211.00,296.54 L211.40,296.97 L211.80,297.44 L212.20,297.95 L212.60,298.49 L213.00,299.04 L213.40,299.60 L213.80,300.15 L214.20,300.68 L214.60,301.18 L215.00,301.64 L215.40,302.05 L215.80,302.41 L216.20,302.69 L216.60,302.88 L217.00,302.99 L217.40,302.99 L217.80,302.92 L218.20,302.80 L218.60,302.61 L219.00,302.38 L219.40,302.11 L219.80,301.80 L220.20,301.46 L220.60,301.10 L221.00,300.73 L221.40,300.34 L221.80,299.96 L222.20,299.57 L222.60,299.20 L223.00,298.84 L223.40,298.50 L223.80,298.19 L224.20,297.92 L224.60,297.69 L225.00,297.50 L225.40,297.38 L225.80,297.31 L226.20,297.31 L226.60,297.37 L227.00,297.48 L227.40,297.64 L227.80,297.84 L228.20,298.08 L228.60,298.35 L229.00,298.64 L229.40,298.95 L229.80,299.27 L230.20,299.59 L230.60,299.91 L231.00,300.23 L231.40,300.54 L231.80,300.82 L232.20,301.08 L232.60,301.31 L233.00,301.50 L233.40,301.65 L233.80,301.75 L234.20,301.80 L234.60,301.79 L235.00,301.73 L235.40,301.63 L235.80,301.50 L236.20,301.34 L236.60,301.14 L237.00,300.93 L237.40,300.70 L237.80,300.45 L238.20,300.19 L238.60,299.93 L239.00,299.67 L239.40,299.41 L239.80,299.16 L240.20,298.93 L240.60,298.71 L241.00,298.51 L241.40,298.34 L241.80,298.20 L242.20,298.09 L242.60,298.02 L243.00,298.00 L243.40,298.02 L243.80,298.08 L244.20,298.17 L244.60,298.29 L245.00,298.44 L245.40,298.61 L245.80,298.81 L246.20,299.01 L246.60,299.23 L247.00,299.46 L247.40,299.69 L247.80,299.92 L248.20,300.16 L248.60,300.38 L249.00,300.59 L249.40,300.79 L249.80,300.97 L250.20,301.14 L250.60,301.27 L251.00,301.38 L251.40,301.46 L251.80,301.49 L252.20,301.49 L252.60,301.46 L253.00,301.38 L253.40,301.27 L253.80,301.14 L254.20,300.98 L254.60,300.80 L255.00,300.60 L255.40,300.39 L255.80,300.17 L256.20,299.94 L256.60,299.71 L257.00,299.49 L257.40,299.26 L257.80,299.05 L258.20,298.85 L258.60,298.66 L259.00,298.50 L259.40,298.36 L259.80,298.24 L260.20,298.16 L260.60,298.11 L261.00,298.10 L261.40,298.13 L261.80,298.20 L262.20,298.30 L262.60,298.44 L263.00,298.59 L263.40,298.77 L263.80,298.97 L264.20,299.18 L264.60,299.41 L265.00,299.63 L265.40,299.87 L265.80,300.09 L266.20,300.32 L266.60,300.53 L267.00,300.73 L267.40,300.91 L267.80,301.06 L268.20,301.20 L268.60,301.30 L269.00,301.37 L269.40,301.40 L269.80,301.39 L270.20,301.36 L270.60,301.31 L271.00,301.23 L271.40,301.14 L271.80,301.03 L272.20,300.91 L272.60,300.77 L273.00,300.62 L273.40,300.47 L273.80,300.31 L274.20,300.14 L274.60,299.97 L275.00,299.80 L275.40,299.64 L275.80,299.47 L276.20,299.32 L276.60,299.17 L277.00,299.03 L277.40,298.90 L277.80,298.79 L278.20,298.69 L278.60,298.61 L279.00,298.55 L279.40,298.51 L279.80,298.50 L280.20,298.52 L280.60,298.58 L281.00,298.66 L281.40,298.78 L281.80,298.92 L282.20,299.08 L282.60,299.26 L283.00,299.45 L283.40,299.65 L283.80,299.85 L284.20,300.05 L284.60,300.25 L285.00,300.44 L285.40,300.62 L285.80,300.78 L286.20,300.92 L286.60,301.04 L287.00,301.12 L287.40,301.18 L287.80,301.20 L288.20,301.19 L288.60,301.15 L289.00,301.08 L289.40,301.00 L289.80,300.89 L290.20,300.77 L290.60,300.64 L291.00,300.50 L291.40,300.34 L291.80,300.19 L292.20,300.03 L292.60,299.87 L293.00,299.72 L293.40,299.57 L293.80,299.43 L294.20,299.30 L294.60,299.18 L295.00,299.08 L295.40,299.00 L295.80,298.94 L296.20,298.91 L296.60,298.90 L297.00,298.92 L297.40,298.96 L297.80,299.02 L298.20,299.10 L298.60,299.19 L299.00,299.30 L299.40,299.42 L299.80,299.54 L300.20,299.68 L300.60,299.81 L301.00,299.95 L301.40,300.09 L301.80,300.22 L302.20,300.35 L302.60,300.47 L303.00,300.58 L303.40,300.68 L303.80,300.76 L304.20,300.83 L304.60,300.87 L305.00,300.90 L305.40,300.90 L305.80,300.87 L306.20,300.83 L306.60,300.76 L307.00,300.68 L307.40,300.58 L307.80,300.47 L308.20,300.35 L308.60,300.22 L309.00,300.09 L309.40,299.95 L309.80,299.81 L310.20,299.68 L310.60,299.54 L311.00,299.42 L311.40,299.30 L311.80,299.19 L312.20,299.10 L312.60,299.02 L313.00,298.96 L313.40,298.92 L313.80,298.90 L314.20,298.91 L314.60,298.94 L315.00,298.99 L315.40,299.05 L315.80,299.14 L316.20,299.24 L316.60,299.34 L317.00,299.46 L317.40,299.59 L317.80,299.72 L318.20,299.85 L318.60,299.99 L319.00,300.12 L319.40,300.25 L319.80,300.37 L320.20,300.48 L320.60,300.58 L321.00,300.67 L321.40,300.74 L321.80,300.79 L322.20,300.83 L322.60,300.84 L323.00,300.83 L323.40,300.80 L323.80,300.75 L324.20,300.68 L324.60,300.60 L325.00,300.50 L325.40,300.39 L325.80,300.28 L326.20,300.16 L326.60,300.04 L327.00,299.91 L327.40,299.79 L327.80,299.66 L328.20,299.55 L328.60,299.43 L329.00,299.33 L329.40,299.24 L329.80,299.16 L330.20,299.10 L330.60,299.05 L331.00,299.02 L331.40,299.02 L331.80,299.03 L332.20,299.07 L332.60,299.12 L333.00,299.19 L333.40,299.27 L333.80,299.36 L334.20,299.46 L334.60,299.57 L335.00,299.68 L335.40,299.80 L335.80,299.92 L336.20,300.04 L336.60,300.15 L337.00,300.26 L337.40,300.36 L337.80,300.46 L338.20,300.54 L338.60,300.61 L339.00,300.67 L339.40,300.71 L339.80,300.73 L340.20,300.73 L340.60,300.71 L341.00,300.67 L341.40,300.62 L341.80,300.55 L342.20,300.47 L342.60,300.38 L343.00,300.29 L343.40,300.18 L343.80,300.08 L344.20,299.97 L344.60,299.86 L345.00,299.75 L345.40,299.64 L345.80,299.54 L346.20,299.44 L346.60,299.36 L347.00,299.28 L347.40,299.22 L347.80,299.17 L348.20,299.13 L348.60,299.12 L349.00,299.12 L349.40,299.15 L349.80,299.19 L350.20,299.24 L350.60,299.30 L351.00,299.38 L351.40,299.47 L351.80,299.56 L352.20,299.66 L352.60,299.76 L353.00,299.86 L353.40,299.97 L353.80,300.07 L354.20,300.17 L354.60,300.26 L355.00,300.35 L355.40,300.43 L355.80,300.50 L356.20,300.56 L356.60,300.60 L357.00,300.62 L357.40,300.63 L357.80,300.63 L358.20,300.60 L358.60,300.56 L359.00,300.51 L359.40,300.44 L359.80,300.37 L360.20,300.29 L360.60,300.20 L361.00,300.10 L361.40,300.01 L361.80,299.91 L362.20,299.81 L362.60,299.72 L363.00,299.62 L363.40,299.54 L363.80,299.46 L364.20,299.38 L364.60,299.32 L365.00,299.27 L365.40,299.24 L365.80,299.22 L366.20,299.21 L366.60,299.22 L367.00,299.25 L367.40,299.29 L367.80,299.34 L368.20,299.41 L368.60,299.48 L369.00,299.56 L369.40,299.64 L369.80,299.73 L370.20,299.82 L370.60,299.91 L371.00,300.01 L371.40,300.10 L371.80,300.18 L372.20,300.26 L372.60,300.34 L373.00,300.40 L373.40,300.46 L373.80,300.50 L374.20,300.53 L374.60,300.55 L375.00,300.55 L375.40,300.53 L375.80,300.50 L376.20,300.46 L376.60,300.41 L377.00,300.35 L377.40,300.28 L377.80,300.20 L378.20,300.12 L378.60,300.04 L379.00,299.95 L379.40,299.87 L379.80,299.78 L380.20,299.70 L380.60,299.62 L381.00,299.54 L381.40,299.47 L381.80,299.42 L382.20,299.37 L382.60,299.33 L383.00,299.30 L383.40,299.29 L383.80,299.29 L384.20,299.31 L384.60,299.34 L385.00,299.38 L385.40,299.44 L385.80,299.49 L386.20,299.56 L386.60,299.63 L387.00,299.71 L387.40,299.79 L387.80,299.87 L388.20,299.95 L388.60,300.03 L389.00,300.11 L389.40,300.18 L389.80,300.25 L390.20,300.31 L390.60,300.37 L391.00,300.41 L391.40,300.44 L391.80,300.47 L392.20,300.47 L392.60,300.47 L393.00,300.45 L393.40,300.42 L393.80,300.37 L394.20,300.32 L394.60,300.27 L395.00,300.20 L395.40,300.13 L395.80,300.06 L396.20,299.98 L396.60,299.91 L397.00,299.83 L397.40,299.76 L397.80,299.68 L398.20,299.62 L398.60,299.55 L399.00,299.50 L399.40,299.45 L399.80,299.41 L400.20,299.38 L400.60,299.37 L401.00,299.36 L401.40,299.37 L401.80,299.39 L402.20,299.42 L402.60,299.47 L403.00,299.51 L403.40,299.57 L403.80,299.63 L404.20,299.70 L404.60,299.77 L405.00,299.84 L405.40,299.91 L405.80,299.98 L406.20,300.05 L406.60,300.12 L407.00,300.18 L407.40,300.24 L407.80,300.29 L408.20,300.33 L408.60,300.37 L409.00,300.39 L409.40,300.40 L409.80,300.40 L410.20,300.39 L410.60,300.37 L411.00,300.34 L411.40,300.30 L411.80,300.25 L412.20,300.20 L412.60,300.14 L413.00,300.07 L413.40,300.01 L413.80,299.94 L414.20,299.87 L414.60,299.81 L415.00,299.74 L415.40,299.68 L415.80,299.62 L416.20,299.57 L416.60,299.52 L417.00,299.48 L417.40,299.45 L417.80,299.43 L418.20,299.42 L418.60,299.43 L419.00,299.44 L419.40,299.46 L419.80,299.50 L420.20,299.54 L420.60,299.58 L421.00,299.64 L421.40,299.69 L421.80,299.75 L422.20,299.82 L422.60,299.88 L423.00,299.94 L423.40,300.01 L423.80,300.07 L424.20,300.12 L424.60,300.18 L425.00,300.23 L425.40,300.27 L425.80,300.30 L426.20,300.33 L426.60,300.34 L427.00,300.35 L427.40,300.34 L427.80,300.33 L428.20,300.30 L428.60,300.27 L429.00,300.23 L429.40,300.18 L429.80,300.13 L430.20,300.07 L430.60,300.02 L431.00,299.95 L431.40,299.89 L431.80,299.83 L432.20,299.77 L432.60,299.71 L433.00,299.66 L433.40,299.61 L433.80,299.56 L434.20,299.52 L434.60,299.49 L435.00,299.47 L435.40,299.45 L435.80,299.45 L436.20,299.46 L436.60,299.48 L437.00,299.50 L437.40,299.54 L437.80,299.58 L438.20,299.63 L438.60,299.68 L439.00,299.74 L439.40,299.80 L439.80,299.86 L440.20,299.92 L440.60,299.98 L441.00,300.05 L441.40,300.10 L441.80,300.16 L442.20,300.21 L442.60,300.25 L443.00,300.29 L443.40,300.32 L443.80,300.34 L444.20,300.35 L444.60,300.34 L445.00,300.31 L445.40,300.24 L445.80,300.15 L446.20,300.05 L446.60,299.95 L446.80,299.90"/>
</g>
<g fill="none" stroke="#1e1e1e" stroke-width="1.15" stroke-linecap="round" stroke-linejoin="round">
<path transform="translate(107.85,317.30)" d="M-3.0,-7.9 C-3.0,-9.7 -1.7,-10.8 0,-10.8 C1.7,-10.8 2.9,-9.6 2.9,-7.9 C2.9,-6.3 1.9,-5.2 0.4,-3.8 L-3.2,0 L2.9,0 L2.9,-1.3"/>
<path transform="translate(118.10,317.30)" d="M-2.8,-6.6 C-2.8,-9.4 -1.7,-10.8 0,-10.8 C1.7,-10.8 2.8,-9.4 2.8,-6.6 L2.8,-4.2 C2.8,-1.4 1.7,0 0,0 C-1.7,0 -2.8,-1.4 -2.8,-4.2 Z"/>
<path transform="translate(128.35,317.30)" d="M-2.8,-6.6 C-2.8,-9.4 -1.7,-10.8 0,-10.8 C1.7,-10.8 2.8,-9.4 2.8,-6.6 L2.8,-4.2 C2.8,-1.4 1.7,0 0,0 C-1.7,0 -2.8,-1.4 -2.8,-4.2 Z"/>
<path transform="translate(190.05,317.30)" d="M1.3,0 L1.3,-10.8 L-3.1,-3.5 L3.0,-3.5 M-0.4,0 L2.9,0"/>
<path transform="translate(200.30,317.30)" d="M-2.8,-6.6 C-2.8,-9.4 -1.7,-10.8 0,-10.8 C1.7,-10.8 2.8,-9.4 2.8,-6.6 L2.8,-4.2 C2.8,-1.4 1.7,0 0,0 C-1.7,0 -2.8,-1.4 -2.8,-4.2 Z"/>
<path transform="translate(210.55,317.30)" d="M-2.8,-6.6 C-2.8,-9.4 -1.7,-10.8 0,-10.8 C1.7,-10.8 2.8,-9.4 2.8,-6.6 L2.8,-4.2 C2.8,-1.4 1.7,0 0,0 C-1.7,0 -2.8,-1.4 -2.8,-4.2 Z"/>
<path transform="translate(272.25,317.30)" d="M2.7,-10.4 C0.3,-11.2 -2.9,-8.5 -2.9,-3.6 C-2.9,-1.2 -1.6,0 0,0 C1.7,0 2.9,-1.3 2.9,-3.3 C2.9,-5.3 1.7,-6.6 0,-6.6 C-1.4,-6.6 -2.6,-5.6 -2.9,-3.9"/>
<path transform="translate(282.50,317.30)" d="M-2.8,-6.6 C-2.8,-9.4 -1.7,-10.8 0,-10.8 C1.7,-10.8 2.8,-9.4 2.8,-6.6 L2.8,-4.2 C2.8,-1.4 1.7,0 0,0 C-1.7,0 -2.8,-1.4 -2.8,-4.2 Z"/>
<path transform="translate(292.75,317.30)" d="M-2.8,-6.6 C-2.8,-9.4 -1.7,-10.8 0,-10.8 C1.7,-10.8 2.8,-9.4 2.8,-6.6 L2.8,-4.2 C2.8,-1.4 1.7,0 0,0 C-1.7,0 -2.8,-1.4 -2.8,-4.2 Z"/>
<path transform="translate(354.45,317.30)" d="M0,-6 C-1.3,-6 -2.05,-7.1 -2.05,-8.4 C-2.05,-9.7 -1.3,-10.8 0,-10.8 C1.3,-10.8 2.05,-9.7 2.05,-8.4 C2.05,-7.1 1.3,-6 0,-6 C-1.7,-6 -2.8,-4.7 -2.8,-3 C-2.8,-1.3 -1.7,0 0,0 C1.7,0 2.8,-1.3 2.8,-3 C2.8,-4.7 1.7,-6 0,-6 Z"/>
<path transform="translate(364.70,317.30)" d="M-2.8,-6.6 C-2.8,-9.4 -1.7,-10.8 0,-10.8 C1.7,-10.8 2.8,-9.4 2.8,-6.6 L2.8,-4.2 C2.8,-1.4 1.7,0 0,0 C-1.7,0 -2.8,-1.4 -2.8,-4.2 Z"/>
<path transform="translate(374.95,317.30)" d="M-2.8,-6.6 C-2.8,-9.4 -1.7,-10.8 0,-10.8 C1.7,-10.8 2.8,-9.4 2.8,-6.6 L2.8,-4.2 C2.8,-1.4 1.7,0 0,0 C-1.7,0 -2.8,-1.4 -2.8,-4.2 Z"/>
<path transform="translate(431.53,317.30)" d="M-2.9,-8.9 L0,-10.8 L0,0 M-2.8,0 L2.8,0"/>
<path transform="translate(441.78,317.30)" d="M-2.8,-6.6 C-2.8,-9.4 -1.7,-10.8 0,-10.8 C1.7,-10.8 2.8,-9.4 2.8,-6.6 L2.8,-4.2 C2.8,-1.4 1.7,0 0,0 C-1.7,0 -2.8,-1.4 -2.8,-4.2 Z"/>
<path transform="translate(452.03,317.30)" d="M-2.8,-6.6 C-2.8,-9.4 -1.7,-10.8 0,-10.8 C1.7,-10.8 2.8,-9.4 2.8,-6.6 L2.8,-4.2 C2.8,-1.4 1.7,0 0,0 C-1.7,0 -2.8,-1.4 -2.8,-4.2 Z"/>
<path transform="translate(462.28,317.30)" d="M-2.8,-6.6 C-2.8,-9.4 -1.7,-10.8 0,-10.8 C1.7,-10.8 2.8,-9.4 2.8,-6.6 L2.8,-4.2 C2.8,-1.4 1.7,0 0,0 C-1.7,0 -2.8,-1.4 -2.8,-4.2 Z"/>
<path transform="translate(7.00,254.20)" d="M-2.8,-6.6 C-2.8,-9.4 -1.7,-10.8 0,-10.8 C1.7,-10.8 2.8,-9.4 2.8,-6.6 L2.8,-4.2 C2.8,-1.4 1.7,0 0,0 C-1.7,0 -2.8,-1.4 -2.8,-4.2 Z"/>
<circle cx="17.00" cy="253.60" r="1.35" fill="#222" stroke="none"/>
<path transform="translate(27.00,254.20)" d="M-3.0,-7.9 C-3.0,-9.7 -1.7,-10.8 0,-10.8 C1.7,-10.8 2.9,-9.6 2.9,-7.9 C2.9,-6.3 1.9,-5.2 0.4,-3.8 L-3.2,0 L2.9,0 L2.9,-1.3"/>
<path transform="translate(7.00,202.80)" d="M-2.8,-6.6 C-2.8,-9.4 -1.7,-10.8 0,-10.8 C1.7,-10.8 2.8,-9.4 2.8,-6.6 L2.8,-4.2 C2.8,-1.4 1.7,0 0,0 C-1.7,0 -2.8,-1.4 -2.8,-4.2 Z"/>
<circle cx="17.00" cy="202.20" r="1.35" fill="#222" stroke="none"/>
<path transform="translate(27.00,202.80)" d="M1.3,0 L1.3,-10.8 L-3.1,-3.5 L3.0,-3.5 M-0.4,0 L2.9,0"/>
<path transform="translate(7.00,151.40)" d="M-2.8,-6.6 C-2.8,-9.4 -1.7,-10.8 0,-10.8 C1.7,-10.8 2.8,-9.4 2.8,-6.6 L2.8,-4.2 C2.8,-1.4 1.7,0 0,0 C-1.7,0 -2.8,-1.4 -2.8,-4.2 Z"/>
<circle cx="17.00" cy="150.80" r="1.35" fill="#222" stroke="none"/>
<path transform="translate(27.00,151.40)" d="M2.7,-10.4 C0.3,-11.2 -2.9,-8.5 -2.9,-3.6 C-2.9,-1.2 -1.6,0 0,0 C1.7,0 2.9,-1.3 2.9,-3.3 C2.9,-5.3 1.7,-6.6 0,-6.6 C-1.4,-6.6 -2.6,-5.6 -2.9,-3.9"/>
<path transform="translate(7.00,100.00)" d="M-2.8,-6.6 C-2.8,-9.4 -1.7,-10.8 0,-10.8 C1.7,-10.8 2.8,-9.4 2.8,-6.6 L2.8,-4.2 C2.8,-1.4 1.7,0 0,0 C-1.7,0 -2.8,-1.4 -2.8,-4.2 Z"/>
<circle cx="17.00" cy="99.40" r="1.35" fill="#222" stroke="none"/>
<path transform="translate(27.00,100.00)" d="M0,-6 C-1.3,-6 -2.05,-7.1 -2.05,-8.4 C-2.05,-9.7 -1.3,-10.8 0,-10.8 C1.3,-10.8 2.05,-9.7 2.05,-8.4 C2.05,-7.1 1.3,-6 0,-6 C-1.7,-6 -2.8,-4.7 -2.8,-3 C-2.8,-1.3 -1.7,0 0,0 C1.7,0 2.8,-1.3 2.8,-3 C2.8,-4.7 1.7,-6 0,-6 Z"/>
<path transform="translate(27.10,49.10)" d="M-2.9,-8.9 L0,-10.8 L0,0 M-2.8,0 L2.8,0"/>
<path transform="translate(474.70,304.90)" d="M-1,-9.4 L-1,-2.2 C-1,-0.6 0,0 1.4,0 C3,0 4.2,-0.5 4.7,-1.2 M-2.8,-7.25 L3.4,-7.25"/>
<path d="M33.4,10.1 C31.5,11.5 30.9,14.5 32,16.5 C33,18.5 35.5,18.8 37,17.5 C39,16 40.2,13 39.6,11 C39,9.2 37.5,9.2 36.8,10.2 C35.5,12.5 34.6,17 34.2,21.2" stroke-width="0.9"/>
</g>
</svg>
</body></html>
